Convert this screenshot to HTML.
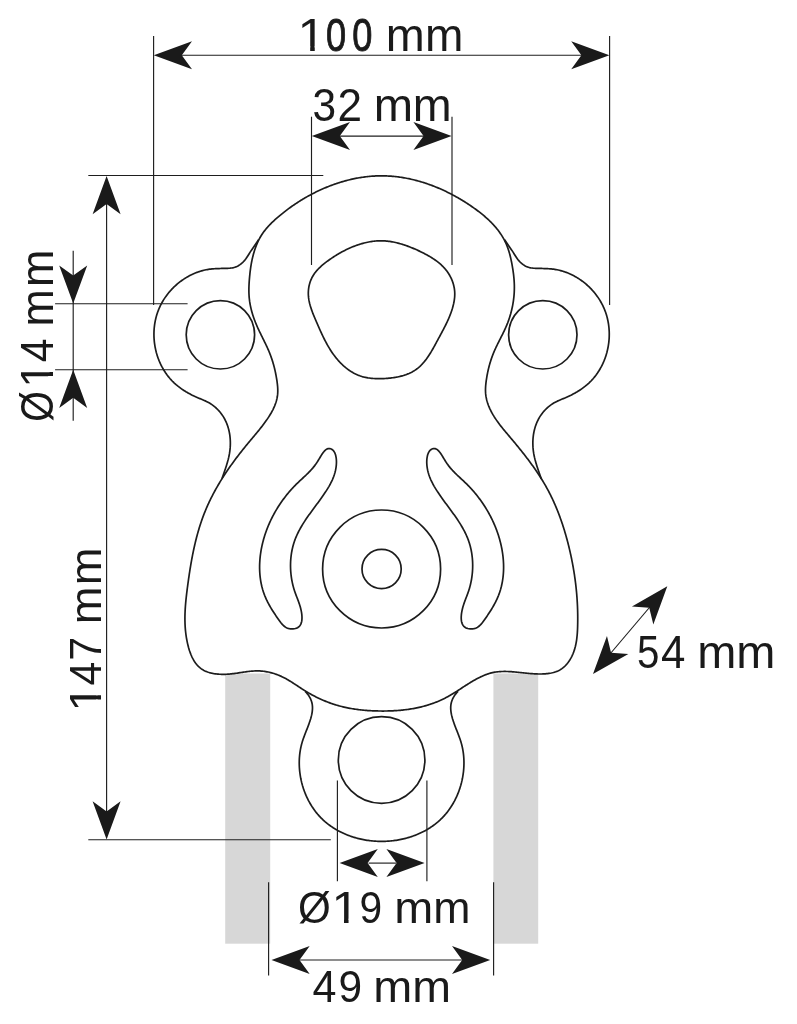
<!DOCTYPE html>
<html><head><meta charset="utf-8"><style>
html,body{margin:0;padding:0;background:#fff;width:797px;height:1024px;overflow:hidden}
svg{display:block;will-change:transform}
</style></head><body>
<svg width="797" height="1024" viewBox="0 0 797 1024">
<rect x="225.2" y="673.5" width="45" height="270.2" fill="#d7d7d7"/>
<rect x="493.4" y="673.5" width="44.8" height="270.2" fill="#d7d7d7"/>
<path d="M381.63,175.83 L380.45,175.84 L379.26,175.85 L378.07,175.88 L376.89,175.92 L375.70,175.97 L374.51,176.03 L373.33,176.10 L372.14,176.18 L370.96,176.27 L369.77,176.37 L368.59,176.49 L367.40,176.61 L366.22,176.75 L365.04,176.89 L363.86,177.05 L362.68,177.22 L361.50,177.39 L360.32,177.58 L359.14,177.78 L357.96,177.98 L356.79,178.20 L355.61,178.43 L354.44,178.66 L353.27,178.91 L352.09,179.16 L350.93,179.43 L349.76,179.71 L348.59,179.99 L347.43,180.28 L346.27,180.59 L345.11,180.90 L343.95,181.22 L342.79,181.56 L341.64,181.90 L340.48,182.25 L339.33,182.60 L338.19,182.97 L337.04,183.35 L335.90,183.73 L334.75,184.13 L333.62,184.53 L332.48,184.94 L331.35,185.36 L330.22,185.79 L329.09,186.23 L327.96,186.67 L326.84,187.13 L325.72,187.59 L324.61,188.06 L323.49,188.54 L322.38,189.02 L321.28,189.52 L320.17,190.02 L319.07,190.53 L317.98,191.05 L316.88,191.57 L315.79,192.10 L314.71,192.64 L313.62,193.19 L312.55,193.75 L311.47,194.31 L310.40,194.88 L309.33,195.46 L308.27,196.04 L307.21,196.63 L306.16,197.23 L305.11,197.84 L304.06,198.45 L303.02,199.07 L301.98,199.70 L300.95,200.33 L299.92,200.97 L298.90,201.62 L297.88,202.27 L296.86,202.93 L295.85,203.59 L294.85,204.27 L293.85,204.94 L292.86,205.63 L291.87,206.32 L290.88,207.02 L289.90,207.72 L288.93,208.43 L287.96,209.14 L287.00,209.86 L286.04,210.59 L285.09,211.32 L284.14,212.06 L283.20,212.80 L282.26,213.55 L281.34,214.30 L280.41,215.06 L279.49,215.83 L278.58,216.60 L277.68,217.37 L276.78,218.15 L275.89,218.94 L275.00,219.73 L274.13,220.53 L273.26,221.33 L272.40,222.15 L271.55,222.97 L270.71,223.80 L269.89,224.65 L269.07,225.50 L268.27,226.36 L267.49,227.24 L266.71,228.12 L265.96,229.02 L265.21,229.93 L264.49,230.86 L263.78,231.80 L263.09,232.76 L262.41,233.73 L261.76,234.72 L261.12,235.72 L260.51,236.75 L259.92,237.79 L259.34,238.84 L258.79,239.91 L258.26,241.00 L257.74,242.10 L257.25,243.21 L256.77,244.33 L256.32,245.46 L255.88,246.60 L255.46,247.75 L255.05,248.91 L254.67,250.07 L254.30,251.23 L253.94,252.40 L253.61,253.57 L253.29,254.74 L252.98,255.91 L252.69,257.08 L252.41,258.25 L252.15,259.43 L251.90,260.60 L251.67,261.78 L251.44,262.95 L251.23,264.13 L251.03,265.31 L250.85,266.49 L250.67,267.67 L250.50,268.85 L250.34,270.04 L250.19,271.22 L250.05,272.41 L249.92,273.60 L249.80,274.79 L249.68,275.98 L249.57,277.18 L249.46,278.37 L249.36,279.57 L249.27,280.77 L249.19,281.97 L249.11,283.17 L249.05,284.37 L248.99,285.57 L248.95,286.78 L248.91,287.98 L248.89,289.18 L248.89,290.38 L248.90,291.59 L248.92,292.79 L248.97,293.98 L249.03,295.18 L249.10,296.38 L249.20,297.57 L249.32,298.76 L249.46,299.95 L249.61,301.14 L249.79,302.32 L249.98,303.50 L250.19,304.68 L250.42,305.85 L250.67,307.02 L250.93,308.19 L251.21,309.36 L251.51,310.52 L251.82,311.68 L252.15,312.83 L252.49,313.98 L252.85,315.13 L253.22,316.27 L253.61,317.41 L254.00,318.55 L254.41,319.68 L254.84,320.81 L255.27,321.93 L255.72,323.04 L256.18,324.16 L256.65,325.27 L257.13,326.37 L257.61,327.47 L258.11,328.56 L258.62,329.65 L259.13,330.74 L259.64,331.82 L260.17,332.91 L260.69,333.99 L261.22,335.07 L261.75,336.14 L262.29,337.22 L262.82,338.29 L263.35,339.37 L263.88,340.44 L264.41,341.52 L264.94,342.60 L265.46,343.67 L265.98,344.75 L266.49,345.84 L266.99,346.92 L267.49,348.01 L267.97,349.10 L268.45,350.19 L268.92,351.29 L269.38,352.39 L269.82,353.50 L270.25,354.61 L270.67,355.73 L271.08,356.85 L271.47,357.98 L271.86,359.11 L272.23,360.24 L272.59,361.38 L272.94,362.53 L273.27,363.68 L273.60,364.83 L273.91,365.99 L274.21,367.15 L274.51,368.32 L274.79,369.49 L275.06,370.67 L275.32,371.85 L275.57,373.03 L275.80,374.22 L276.03,375.41 L276.25,376.61 L276.46,377.81 L276.66,379.01 L276.85,380.22 L277.03,381.43 L277.19,382.64 L277.34,383.86 L277.47,385.07 L277.59,386.29 L277.68,387.50 L277.74,388.71 L277.77,389.92 L277.78,391.12 L277.75,392.32 L277.69,393.51 L277.58,394.69 L277.44,395.86 L277.26,397.03 L277.04,398.18 L276.79,399.33 L276.50,400.47 L276.18,401.60 L275.83,402.72 L275.44,403.84 L275.03,404.94 L274.59,406.04 L274.12,407.13 L273.63,408.21 L273.12,409.29 L272.58,410.35 L272.02,411.41 L271.44,412.47 L270.84,413.51 L270.22,414.55 L269.59,415.57 L268.94,416.60 L268.28,417.61 L267.60,418.62 L266.92,419.62 L266.22,420.61 L265.52,421.59 L264.80,422.57 L264.09,423.54 L263.36,424.51 L262.63,425.46 L261.90,426.42 L261.16,427.36 L260.42,428.30 L259.67,429.24 L258.92,430.18 L258.17,431.11 L257.41,432.03 L256.65,432.96 L255.89,433.88 L255.12,434.79 L254.36,435.71 L253.59,436.63 L252.83,437.54 L252.06,438.46 L251.29,439.37 L250.52,440.29 L249.75,441.20 L248.99,442.12 L248.22,443.04 L247.46,443.96 L246.70,444.88 L245.94,445.81 L245.18,446.74 L244.43,447.67 L243.67,448.60 L242.92,449.54 L242.17,450.48 L241.43,451.42 L240.69,452.36 L239.95,453.31 L239.21,454.26 L238.47,455.21 L237.74,456.16 L237.02,457.12 L236.29,458.08 L235.57,459.04 L234.85,460.01 L234.13,460.98 L233.42,461.95 L232.71,462.92 L232.01,463.89 L231.31,464.87 L230.61,465.85 L229.92,466.84 L229.23,467.82 L228.54,468.81 L227.86,469.81 L227.19,470.80 L226.51,471.80 L225.84,472.80 L225.18,473.80 L224.52,474.81 L223.87,475.82 L223.22,476.83 L222.57,477.84 L221.93,478.86 L221.29,479.88 L220.66,480.90 L220.04,481.93 L219.42,482.95 L218.80,483.99 L218.19,485.02 L217.59,486.06 L216.99,487.10 L216.40,488.14 L215.81,489.18 L215.23,490.23 L214.65,491.28 L214.08,492.34 L213.52,493.39 L212.96,494.45 L212.41,495.52 L211.86,496.58 L211.32,497.65 L210.79,498.72 L210.26,499.80 L209.74,500.88 L209.23,501.96 L208.72,503.04 L208.22,504.13 L207.73,505.22 L207.24,506.31 L206.76,507.40 L206.29,508.50 L205.82,509.60 L205.37,510.71 L204.92,511.81 L204.47,512.92 L204.04,514.04 L203.61,515.15 L203.19,516.27 L202.77,517.40 L202.37,518.52 L201.97,519.65 L201.57,520.78 L201.19,521.91 L200.81,523.04 L200.43,524.18 L200.06,525.32 L199.70,526.46 L199.35,527.61 L199.00,528.76 L198.66,529.90 L198.32,531.06 L197.99,532.21 L197.66,533.36 L197.34,534.52 L197.03,535.68 L196.72,536.84 L196.42,538.00 L196.12,539.17 L195.83,540.33 L195.54,541.50 L195.26,542.67 L194.98,543.84 L194.71,545.02 L194.44,546.19 L194.17,547.36 L193.92,548.54 L193.66,549.72 L193.41,550.90 L193.17,552.08 L192.93,553.26 L192.69,554.44 L192.46,555.62 L192.23,556.81 L192.00,557.99 L191.78,559.18 L191.57,560.37 L191.35,561.55 L191.14,562.74 L190.94,563.93 L190.73,565.12 L190.53,566.31 L190.34,567.50 L190.14,568.69 L189.95,569.88 L189.76,571.07 L189.58,572.26 L189.40,573.45 L189.22,574.65 L189.04,575.84 L188.87,577.03 L188.70,578.22 L188.53,579.41 L188.36,580.60 L188.19,581.79 L188.03,582.99 L187.87,584.18 L187.71,585.37 L187.55,586.56 L187.39,587.74 L187.24,588.93 L187.09,590.12 L186.94,591.31 L186.79,592.50 L186.65,593.69 L186.51,594.87 L186.37,596.06 L186.24,597.25 L186.12,598.43 L185.99,599.62 L185.87,600.81 L185.76,601.99 L185.66,603.18 L185.56,604.37 L185.46,605.55 L185.37,606.74 L185.29,607.93 L185.22,609.11 L185.15,610.30 L185.10,611.49 L185.05,612.68 L185.00,613.87 L184.97,615.06 L184.95,616.25 L184.93,617.44 L184.93,618.63 L184.93,619.82 L184.95,621.01 L184.98,622.21 L185.01,623.40 L185.06,624.59 L185.12,625.79 L185.19,626.99 L185.28,628.18 L185.37,629.38 L185.48,630.58 L185.61,631.78 L185.74,632.98 L185.89,634.19 L186.06,635.39 L186.24,636.60 L186.43,637.80 L186.64,639.01 L186.86,640.22 L187.10,641.43 L187.35,642.64 L187.62,643.86 L187.91,645.07 L188.22,646.28 L188.54,647.49 L188.89,648.69 L189.25,649.88 L189.63,651.07 L190.04,652.24 L190.47,653.40 L190.92,654.54 L191.40,655.67 L191.90,656.77 L192.43,657.86 L192.98,658.92 L193.56,659.96 L194.17,660.98 L194.80,661.96 L195.47,662.91 L196.17,663.84 L196.90,664.72 L197.65,665.58 L198.45,666.39 L199.27,667.17 L200.13,667.90 L201.03,668.59 L201.96,669.23 L202.92,669.84 L203.92,670.39 L204.95,670.91 L206.01,671.38 L207.09,671.81 L208.20,672.20 L209.33,672.56 L210.49,672.88 L211.66,673.16 L212.85,673.41 L214.06,673.63 L215.27,673.81 L216.50,673.97 L217.74,674.09 L218.99,674.19 L220.24,674.26 L221.50,674.30 L222.76,674.32 L224.02,674.31 L225.28,674.28 L226.53,674.23 L227.78,674.16 L229.02,674.07 L230.25,673.97 L231.47,673.84 L232.69,673.71 L233.90,673.56 L235.11,673.41 L236.31,673.24 L237.51,673.07 L238.70,672.89 L239.89,672.71 L241.07,672.53 L242.25,672.35 L243.43,672.18 L244.61,672.00 L245.78,671.84 L246.96,671.68 L248.13,671.53 L249.30,671.39 L250.47,671.27 L251.64,671.16 L252.81,671.06 L253.98,670.99 L255.15,670.93 L256.33,670.90 L257.51,670.89 L258.69,670.91 L259.87,670.96 L261.06,671.03 L262.24,671.13 L263.43,671.26 L264.62,671.41 L265.81,671.60 L267.00,671.80 L268.18,672.04 L269.37,672.29 L270.54,672.58 L271.72,672.88 L272.89,673.21 L274.05,673.56 L275.20,673.94 L276.35,674.34 L277.48,674.76 L278.61,675.20 L279.73,675.66 L280.83,676.15 L281.92,676.65 L283.00,677.17 L284.07,677.72 L285.13,678.27 L286.18,678.85 L287.22,679.43 L288.25,680.03 L289.28,680.65 L290.30,681.27 L291.31,681.90 L292.32,682.54 L293.33,683.19 L294.33,683.84 L295.33,684.50 L296.33,685.16 L297.33,685.82 L298.32,686.48 L299.32,687.14 L300.33,687.80 L301.33,688.46 L302.34,689.11 L303.35,689.76 L304.37,690.40 L305.39,691.03 L306.42,691.66 L307.46,692.27 L308.50,692.88 L309.55,693.48 L310.60,694.07 L311.66,694.65 L312.72,695.23 L313.78,695.79 L314.86,696.35 L315.93,696.89 L317.01,697.43 L318.10,697.96 L319.19,698.48 L320.29,698.98 L321.39,699.48 L322.49,699.97 L323.60,700.45 L324.71,700.91 L325.82,701.37 L326.94,701.81 L328.06,702.25 L329.19,702.67 L330.32,703.08 L331.45,703.48 L332.59,703.87 L333.73,704.24 L334.87,704.61 L336.01,704.96 L337.16,705.30 L338.31,705.63 L339.47,705.95 L340.62,706.25 L341.78,706.55 L342.94,706.83 L344.11,707.11 L345.27,707.37 L346.44,707.62 L347.61,707.86 L348.78,708.09 L349.96,708.32 L351.14,708.53 L352.31,708.73 L353.50,708.92 L354.68,709.11 L355.86,709.28 L357.05,709.44 L358.23,709.60 L359.42,709.75 L360.61,709.88 L361.81,710.01 L363.00,710.13 L364.19,710.24 L365.39,710.35 L366.58,710.45 L367.78,710.53 L368.98,710.61 L370.18,710.69 L371.38,710.75 L372.58,710.81 L373.78,710.86 L374.98,710.90 L376.19,710.94 L377.39,710.97 L378.59,711.00 L379.80,711.01 L381.00,711.02 L382.20,711.03 L383.41,711.03 L384.61,711.02 L385.81,711.01 L387.02,710.99 L388.22,710.96 L389.42,710.92 L390.63,710.88 L391.83,710.83 L393.03,710.78 L394.23,710.71 L395.43,710.64 L396.63,710.56 L397.83,710.48 L399.02,710.38 L400.22,710.28 L401.41,710.17 L402.60,710.04 L403.80,709.92 L404.99,709.78 L406.17,709.63 L407.36,709.47 L408.55,709.31 L409.73,709.13 L410.91,708.95 L412.09,708.75 L413.26,708.55 L414.44,708.33 L415.61,708.11 L416.78,707.87 L417.95,707.63 L419.11,707.37 L420.28,707.10 L421.44,706.82 L422.59,706.53 L423.75,706.23 L424.90,705.92 L426.04,705.59 L427.19,705.26 L428.33,704.91 L429.47,704.55 L430.60,704.17 L431.73,703.79 L432.86,703.39 L433.98,702.98 L435.10,702.56 L436.22,702.12 L437.33,701.67 L438.44,701.21 L439.54,700.73 L440.64,700.24 L441.73,699.74 L442.82,699.22 L443.91,698.69 L444.99,698.14 L446.07,697.58 L447.14,697.01 L448.21,696.42 L449.27,695.82 L450.33,695.21 L451.39,694.58 L452.44,693.95 L453.49,693.31 L454.53,692.66 L455.58,692.01 L456.62,691.35 L457.66,690.68 L458.70,690.01 L459.73,689.34 L460.77,688.67 L461.80,688.00 L462.83,687.32 L463.87,686.65 L464.90,685.98 L465.93,685.32 L466.97,684.66 L468.00,684.00 L469.03,683.35 L470.07,682.71 L471.11,682.07 L472.15,681.45 L473.19,680.83 L474.23,680.23 L475.28,679.64 L476.32,679.06 L477.38,678.49 L478.43,677.94 L479.49,677.41 L480.55,676.89 L481.62,676.40 L482.69,675.92 L483.76,675.46 L484.84,675.02 L485.93,674.60 L487.02,674.21 L488.12,673.84 L489.22,673.50 L490.33,673.18 L491.44,672.89 L492.57,672.63 L493.70,672.39 L494.83,672.19 L495.97,672.01 L497.12,671.86 L498.28,671.74 L499.44,671.64 L500.61,671.56 L501.79,671.51 L502.96,671.48 L504.15,671.46 L505.34,671.47 L506.53,671.49 L507.73,671.52 L508.93,671.58 L510.13,671.64 L511.34,671.72 L512.55,671.81 L513.76,671.90 L514.98,672.01 L516.20,672.12 L517.42,672.24 L518.64,672.37 L519.86,672.49 L521.09,672.62 L522.31,672.75 L523.54,672.88 L524.77,673.01 L525.99,673.14 L527.22,673.26 L528.44,673.38 L529.67,673.49 L530.89,673.59 L532.11,673.69 L533.33,673.77 L534.55,673.85 L535.76,673.91 L536.98,673.96 L538.19,673.99 L539.39,674.00 L540.60,674.00 L541.80,673.98 L542.99,673.94 L544.18,673.88 L545.37,673.80 L546.56,673.69 L547.73,673.56 L548.91,673.40 L550.07,673.22 L551.23,673.00 L552.37,672.75 L553.51,672.47 L554.63,672.15 L555.73,671.78 L556.82,671.38 L557.89,670.93 L558.93,670.43 L559.95,669.89 L560.95,669.29 L561.92,668.63 L562.86,667.93 L563.77,667.17 L564.66,666.36 L565.51,665.51 L566.33,664.62 L567.12,663.70 L567.88,662.74 L568.61,661.76 L569.30,660.75 L569.96,659.72 L570.58,658.67 L571.17,657.61 L571.73,656.54 L572.25,655.46 L572.74,654.36 L573.20,653.26 L573.63,652.14 L574.03,651.02 L574.41,649.89 L574.75,648.75 L575.07,647.59 L575.37,646.44 L575.64,645.27 L575.89,644.10 L576.12,642.92 L576.33,641.74 L576.52,640.55 L576.69,639.35 L576.84,638.15 L576.97,636.95 L577.10,635.74 L577.20,634.53 L577.30,633.32 L577.38,632.11 L577.45,630.89 L577.51,629.67 L577.56,628.45 L577.60,627.24 L577.64,626.02 L577.66,624.80 L577.69,623.58 L577.71,622.37 L577.72,621.15 L577.73,619.94 L577.74,618.73 L577.73,617.52 L577.73,616.31 L577.72,615.10 L577.70,613.89 L577.68,612.68 L577.65,611.47 L577.62,610.27 L577.58,609.06 L577.54,607.86 L577.49,606.66 L577.44,605.45 L577.38,604.25 L577.32,603.05 L577.25,601.85 L577.18,600.65 L577.10,599.46 L577.02,598.26 L576.94,597.06 L576.84,595.87 L576.75,594.67 L576.65,593.48 L576.54,592.29 L576.43,591.10 L576.31,589.90 L576.19,588.71 L576.07,587.52 L575.94,586.34 L575.80,585.15 L575.66,583.96 L575.52,582.77 L575.37,581.59 L575.21,580.40 L575.06,579.22 L574.89,578.04 L574.72,576.85 L574.55,575.67 L574.38,574.49 L574.19,573.31 L574.01,572.13 L573.82,570.95 L573.62,569.77 L573.42,568.59 L573.22,567.42 L573.01,566.24 L572.79,565.06 L572.57,563.89 L572.35,562.71 L572.12,561.54 L571.89,560.36 L571.66,559.19 L571.42,558.02 L571.17,556.85 L570.92,555.67 L570.67,554.50 L570.41,553.33 L570.15,552.16 L569.88,550.99 L569.61,549.83 L569.33,548.66 L569.05,547.49 L568.77,546.32 L568.48,545.16 L568.19,543.99 L567.89,542.82 L567.59,541.66 L567.28,540.50 L566.97,539.34 L566.65,538.17 L566.33,537.01 L566.01,535.86 L565.68,534.70 L565.34,533.54 L565.00,532.39 L564.66,531.23 L564.31,530.08 L563.95,528.93 L563.59,527.78 L563.23,526.63 L562.86,525.49 L562.48,524.35 L562.10,523.20 L561.71,522.06 L561.32,520.93 L560.92,519.79 L560.52,518.66 L560.11,517.52 L559.70,516.40 L559.28,515.27 L558.85,514.14 L558.42,513.02 L557.99,511.90 L557.54,510.79 L557.10,509.67 L556.64,508.56 L556.18,507.45 L555.72,506.35 L555.25,505.24 L554.77,504.14 L554.28,503.05 L553.79,501.95 L553.30,500.86 L552.80,499.77 L552.29,498.69 L551.77,497.61 L551.25,496.53 L550.72,495.46 L550.19,494.39 L549.65,493.32 L549.10,492.26 L548.55,491.20 L547.99,490.14 L547.42,489.09 L546.84,488.04 L546.26,487.00 L545.68,485.96 L545.08,484.92 L544.48,483.89 L543.88,482.86 L543.27,481.83 L542.65,480.81 L542.02,479.79 L541.39,478.78 L540.76,477.76 L540.12,476.76 L539.47,475.75 L538.82,474.75 L538.16,473.75 L537.50,472.75 L536.83,471.76 L536.16,470.77 L535.48,469.78 L534.80,468.80 L534.11,467.82 L533.42,466.84 L532.72,465.86 L532.02,464.89 L531.32,463.92 L530.61,462.95 L529.90,461.98 L529.18,461.02 L528.46,460.06 L527.74,459.10 L527.01,458.14 L526.28,457.19 L525.55,456.23 L524.81,455.28 L524.07,454.33 L523.33,453.39 L522.58,452.44 L521.83,451.50 L521.08,450.56 L520.32,449.61 L519.57,448.68 L518.81,447.74 L518.05,446.80 L517.28,445.87 L516.52,444.94 L515.75,444.00 L514.98,443.07 L514.21,442.14 L513.43,441.22 L512.66,440.29 L511.88,439.36 L511.10,438.44 L510.32,437.51 L509.54,436.59 L508.76,435.67 L507.98,434.74 L507.20,433.82 L506.42,432.89 L505.65,431.97 L504.87,431.04 L504.11,430.11 L503.34,429.18 L502.58,428.25 L501.83,427.31 L501.08,426.37 L500.34,425.42 L499.61,424.47 L498.89,423.52 L498.18,422.56 L497.48,421.59 L496.79,420.62 L496.11,419.64 L495.45,418.65 L494.80,417.66 L494.16,416.66 L493.54,415.64 L492.93,414.63 L492.34,413.60 L491.77,412.56 L491.21,411.51 L490.68,410.45 L490.16,409.38 L489.66,408.30 L489.19,407.21 L488.73,406.11 L488.30,405.00 L487.90,403.87 L487.52,402.74 L487.17,401.60 L486.85,400.45 L486.56,399.29 L486.31,398.13 L486.08,396.96 L485.89,395.78 L485.74,394.60 L485.63,393.42 L485.55,392.23 L485.51,391.03 L485.50,389.84 L485.52,388.64 L485.57,387.44 L485.64,386.24 L485.74,385.04 L485.86,383.83 L485.99,382.63 L486.15,381.43 L486.31,380.23 L486.49,379.03 L486.68,377.83 L486.88,376.64 L487.08,375.45 L487.31,374.26 L487.54,373.07 L487.78,371.89 L488.04,370.71 L488.30,369.53 L488.58,368.36 L488.87,367.19 L489.17,366.02 L489.49,364.86 L489.82,363.70 L490.15,362.55 L490.51,361.40 L490.87,360.25 L491.25,359.11 L491.64,357.98 L492.04,356.85 L492.45,355.72 L492.88,354.60 L493.32,353.49 L493.78,352.38 L494.25,351.27 L494.73,350.18 L495.22,349.08 L495.72,347.99 L496.23,346.91 L496.75,345.83 L497.27,344.75 L497.80,343.67 L498.34,342.60 L498.87,341.53 L499.42,340.45 L499.96,339.38 L500.50,338.31 L501.04,337.24 L501.59,336.17 L502.12,335.09 L502.66,334.02 L503.19,332.94 L503.71,331.86 L504.23,330.78 L504.74,329.69 L505.24,328.60 L505.73,327.51 L506.21,326.41 L506.68,325.30 L507.13,324.19 L507.58,323.08 L508.00,321.96 L508.42,320.83 L508.82,319.70 L509.21,318.56 L509.58,317.42 L509.94,316.27 L510.29,315.12 L510.63,313.97 L510.94,312.81 L511.25,311.65 L511.54,310.49 L511.82,309.32 L512.08,308.15 L512.33,306.97 L512.57,305.80 L512.79,304.62 L513.00,303.44 L513.19,302.25 L513.37,301.07 L513.53,299.88 L513.68,298.70 L513.82,297.51 L513.94,296.32 L514.04,295.13 L514.13,293.94 L514.21,292.75 L514.27,291.55 L514.31,290.36 L514.34,289.17 L514.36,287.98 L514.36,286.79 L514.35,285.60 L514.32,284.42 L514.27,283.23 L514.21,282.04 L514.14,280.85 L514.06,279.67 L513.96,278.48 L513.85,277.29 L513.73,276.10 L513.60,274.92 L513.45,273.73 L513.30,272.54 L513.13,271.34 L512.96,270.15 L512.77,268.96 L512.58,267.76 L512.38,266.56 L512.16,265.36 L511.95,264.16 L511.72,262.96 L511.48,261.76 L511.23,260.55 L510.98,259.35 L510.71,258.15 L510.43,256.95 L510.13,255.76 L509.83,254.58 L509.50,253.39 L509.17,252.22 L508.81,251.05 L508.45,249.89 L508.06,248.74 L507.66,247.60 L507.24,246.47 L506.80,245.36 L506.34,244.25 L505.86,243.16 L505.36,242.08 L504.84,241.02 L504.30,239.96 L503.74,238.92 L503.16,237.90 L502.57,236.88 L501.96,235.88 L501.33,234.89 L500.69,233.91 L500.02,232.94 L499.35,231.98 L498.65,231.04 L497.94,230.10 L497.22,229.18 L496.48,228.26 L495.73,227.36 L494.96,226.47 L494.18,225.59 L493.39,224.71 L492.58,223.85 L491.77,223.00 L490.94,222.15 L490.09,221.32 L489.24,220.49 L488.38,219.67 L487.50,218.86 L486.62,218.06 L485.72,217.27 L484.82,216.49 L483.91,215.71 L482.99,214.94 L482.06,214.18 L481.12,213.43 L480.17,212.68 L479.22,211.94 L478.26,211.21 L477.29,210.48 L476.32,209.76 L475.35,209.05 L474.36,208.34 L473.37,207.64 L472.38,206.94 L471.38,206.25 L470.38,205.57 L469.38,204.89 L468.37,204.22 L467.35,203.55 L466.33,202.89 L465.31,202.24 L464.28,201.59 L463.25,200.95 L462.21,200.31 L461.17,199.69 L460.13,199.06 L459.08,198.45 L458.03,197.84 L456.98,197.24 L455.92,196.64 L454.85,196.06 L453.79,195.47 L452.72,194.90 L451.64,194.33 L450.57,193.77 L449.49,193.22 L448.40,192.67 L447.32,192.14 L446.23,191.61 L445.13,191.08 L444.04,190.57 L442.94,190.06 L441.83,189.56 L440.73,189.07 L439.62,188.58 L438.51,188.10 L437.39,187.64 L436.27,187.18 L435.15,186.72 L434.03,186.28 L432.91,185.84 L431.78,185.41 L430.65,184.99 L429.51,184.58 L428.38,184.18 L427.24,183.79 L426.10,183.40 L424.96,183.02 L423.82,182.66 L422.67,182.30 L421.52,181.95 L420.37,181.61 L419.22,181.27 L418.06,180.95 L416.91,180.64 L415.75,180.33 L414.59,180.04 L413.43,179.75 L412.27,179.47 L411.10,179.21 L409.94,178.95 L408.77,178.70 L407.60,178.47 L406.43,178.24 L405.26,178.02 L404.08,177.81 L402.91,177.61 L401.73,177.42 L400.56,177.25 L399.38,177.08 L398.20,176.92 L397.02,176.77 L395.84,176.64 L394.66,176.51 L393.48,176.39 L392.30,176.29 L391.11,176.19 L389.93,176.11 L388.75,176.04 L387.56,175.98 L386.38,175.92 L385.19,175.88 L384.01,175.86 L382.82,175.84 L381.63,175.83Z" fill="#fff" stroke="none"/>
<path d="M305.16,691.40 L306.01,692.26 L306.83,693.16 L307.60,694.10 L308.32,695.07 L308.99,696.07 L309.61,697.09 L310.18,698.14 L310.69,699.22 L311.14,700.31 L311.53,701.43 L311.85,702.55 L312.11,703.69 L312.30,704.84 L312.42,706.00 L312.48,707.16 L312.49,708.34 L312.44,709.51 L312.34,710.69 L312.20,711.87 L312.01,713.05 L311.79,714.23 L311.54,715.40 L311.25,716.58 L310.94,717.74 L310.61,718.90 L310.25,720.06 L309.88,721.20 L309.50,722.34 L309.10,723.47 L308.70,724.60 L308.28,725.72 L307.85,726.84 L307.42,727.96 L306.99,729.07 L306.55,730.18 L306.11,731.29 L305.67,732.40 L305.24,733.51 L304.81,734.62 L304.39,735.73 L303.98,736.85 L303.57,737.96 L303.18,739.09 L302.80,740.21 L302.44,741.34 L302.10,742.48 L301.77,743.62 L301.47,744.77 L301.18,745.93 L300.92,747.09 L300.67,748.26 L300.45,749.43 L300.24,750.61 L300.05,751.79 L299.89,752.98 L299.74,754.17 L299.61,755.36 L299.50,756.56 L299.41,757.76 L299.34,758.96 L299.29,760.17 L299.26,761.37 L299.25,762.58 L299.25,763.79 L299.28,765.00 L299.32,766.21 L299.38,767.43 L299.46,768.64 L299.56,769.85 L299.67,771.06 L299.81,772.27 L299.96,773.47 L300.13,774.68 L300.32,775.88 L300.52,777.09 L300.74,778.28 L300.99,779.48 L301.24,780.67 L301.52,781.86 L301.81,783.04 L302.13,784.22 L302.45,785.40 L302.80,786.56 L303.16,787.73 L303.54,788.89 L303.94,790.04 L304.35,791.18 L304.78,792.32 L305.22,793.45 L305.69,794.57 L306.16,795.69 L306.66,796.80 L307.17,797.89 L307.70,798.98 L308.24,800.06 L308.80,801.14 L309.38,802.20 L309.97,803.25 L310.58,804.29 L311.20,805.32 L311.84,806.33 L312.49,807.34 L313.16,808.33 L313.84,809.31 L314.54,810.28 L315.26,811.24 L315.99,812.18 L316.73,813.11 L317.49,814.03 L318.27,814.93 L319.06,815.81 L319.86,816.68 L320.68,817.54 L321.51,818.38 L322.36,819.21 L323.22,820.02 L324.09,820.81 L324.97,821.60 L325.87,822.36 L326.78,823.11 L327.71,823.85 L328.64,824.57 L329.59,825.28 L330.55,825.97 L331.52,826.64 L332.50,827.30 L333.49,827.95 L334.50,828.58 L335.51,829.20 L336.53,829.80 L337.57,830.38 L338.61,830.95 L339.66,831.51 L340.72,832.05 L341.79,832.57 L342.87,833.08 L343.96,833.58 L345.05,834.06 L346.15,834.52 L347.26,834.97 L348.38,835.41 L349.50,835.82 L350.63,836.23 L351.77,836.62 L352.92,836.99 L354.07,837.35 L355.22,837.69 L356.38,838.02 L357.55,838.33 L358.72,838.63 L359.90,838.91 L361.08,839.18 L362.26,839.43 L363.45,839.67 L364.64,839.89 L365.84,840.10 L367.04,840.29 L368.24,840.46 L369.45,840.62 L370.66,840.77 L371.87,840.90 L373.08,841.01 L374.29,841.11 L375.51,841.20 L376.73,841.27 L377.94,841.32 L379.16,841.36 L380.38,841.38 L381.60,841.39 L382.82,841.38 L384.04,841.36 L385.26,841.32 L386.47,841.27 L387.69,841.20 L388.91,841.11 L390.12,841.01 L391.33,840.90 L392.54,840.77 L393.75,840.62 L394.96,840.46 L396.16,840.29 L397.36,840.10 L398.56,839.89 L399.75,839.67 L400.94,839.43 L402.12,839.18 L403.30,838.91 L404.48,838.63 L405.65,838.33 L406.82,838.02 L407.98,837.69 L409.13,837.35 L410.28,836.99 L411.43,836.62 L412.57,836.23 L413.70,835.82 L414.82,835.41 L415.94,834.97 L417.05,834.52 L418.15,834.06 L419.24,833.58 L420.33,833.08 L421.41,832.57 L422.48,832.05 L423.54,831.51 L424.59,830.95 L425.63,830.38 L426.67,829.80 L427.69,829.20 L428.70,828.58 L429.71,827.95 L430.70,827.30 L431.68,826.64 L432.65,825.97 L433.61,825.28 L434.56,824.57 L435.49,823.85 L436.42,823.11 L437.33,822.36 L438.23,821.60 L439.11,820.81 L439.98,820.02 L440.84,819.21 L441.69,818.38 L442.52,817.54 L443.34,816.68 L444.14,815.81 L444.93,814.93 L445.71,814.03 L446.47,813.11 L447.21,812.18 L447.94,811.24 L448.66,810.28 L449.36,809.31 L450.04,808.33 L450.71,807.34 L451.36,806.33 L452.00,805.32 L452.62,804.29 L453.23,803.25 L453.82,802.20 L454.40,801.14 L454.96,800.06 L455.50,798.98 L456.03,797.89 L456.54,796.80 L457.04,795.69 L457.51,794.57 L457.98,793.45 L458.42,792.32 L458.85,791.18 L459.26,790.04 L459.66,788.89 L460.04,787.73 L460.40,786.56 L460.75,785.40 L461.07,784.22 L461.39,783.04 L461.68,781.86 L461.96,780.67 L462.21,779.48 L462.46,778.28 L462.68,777.09 L462.88,775.88 L463.07,774.68 L463.24,773.47 L463.39,772.27 L463.53,771.06 L463.64,769.85 L463.74,768.64 L463.82,767.43 L463.88,766.21 L463.92,765.00 L463.95,763.79 L463.95,762.58 L463.94,761.37 L463.91,760.17 L463.86,758.96 L463.79,757.76 L463.70,756.56 L463.59,755.36 L463.46,754.17 L463.31,752.98 L463.15,751.79 L462.96,750.61 L462.75,749.43 L462.53,748.26 L462.28,747.09 L462.02,745.93 L461.73,744.77 L461.43,743.62 L461.10,742.48 L460.76,741.34 L460.40,740.21 L460.02,739.09 L459.63,737.96 L459.22,736.85 L458.81,735.73 L458.39,734.62 L457.96,733.51 L457.53,732.40 L457.09,731.29 L456.65,730.18 L456.21,729.07 L455.78,727.96 L455.35,726.84 L454.92,725.72 L454.50,724.60 L454.10,723.47 L453.70,722.34 L453.32,721.20 L452.95,720.06 L452.59,718.90 L452.26,717.74 L451.95,716.58 L451.66,715.40 L451.41,714.23 L451.19,713.05 L451.00,711.87 L450.86,710.69 L450.76,709.51 L450.71,708.34 L450.72,707.16 L450.78,706.00 L450.90,704.84 L451.09,703.69 L451.35,702.55 L451.67,701.43 L452.06,700.31 L452.51,699.22 L453.02,698.14 L453.59,697.09 L454.21,696.07 L454.88,695.07 L455.60,694.10 L456.37,693.16 L457.19,692.26 L458.04,691.40" fill="#fff" stroke="none"/>
<path d="M381.63,175.83 L380.45,175.84 L379.26,175.85 L378.07,175.88 L376.89,175.92 L375.70,175.97 L374.51,176.03 L373.33,176.10 L372.14,176.18 L370.96,176.27 L369.77,176.37 L368.59,176.49 L367.40,176.61 L366.22,176.75 L365.04,176.89 L363.86,177.05 L362.68,177.22 L361.50,177.39 L360.32,177.58 L359.14,177.78 L357.96,177.98 L356.79,178.20 L355.61,178.43 L354.44,178.66 L353.27,178.91 L352.09,179.16 L350.93,179.43 L349.76,179.71 L348.59,179.99 L347.43,180.28 L346.27,180.59 L345.11,180.90 L343.95,181.22 L342.79,181.56 L341.64,181.90 L340.48,182.25 L339.33,182.60 L338.19,182.97 L337.04,183.35 L335.90,183.73 L334.75,184.13 L333.62,184.53 L332.48,184.94 L331.35,185.36 L330.22,185.79 L329.09,186.23 L327.96,186.67 L326.84,187.13 L325.72,187.59 L324.61,188.06 L323.49,188.54 L322.38,189.02 L321.28,189.52 L320.17,190.02 L319.07,190.53 L317.98,191.05 L316.88,191.57 L315.79,192.10 L314.71,192.64 L313.62,193.19 L312.55,193.75 L311.47,194.31 L310.40,194.88 L309.33,195.46 L308.27,196.04 L307.21,196.63 L306.16,197.23 L305.11,197.84 L304.06,198.45 L303.02,199.07 L301.98,199.70 L300.95,200.33 L299.92,200.97 L298.90,201.62 L297.88,202.27 L296.86,202.93 L295.85,203.59 L294.85,204.27 L293.85,204.94 L292.86,205.63 L291.87,206.32 L290.88,207.02 L289.90,207.72 L288.93,208.43 L287.96,209.14 L287.00,209.86 L286.04,210.59 L285.09,211.32 L284.14,212.06 L283.20,212.80 L282.26,213.55 L281.34,214.30 L280.41,215.06 L279.49,215.83 L278.58,216.60 L277.68,217.37 L276.78,218.15 L275.89,218.94 L275.00,219.73 L274.13,220.53 L273.26,221.33 L272.40,222.15 L271.55,222.97 L270.71,223.80 L269.89,224.65 L269.07,225.50 L268.27,226.36 L267.49,227.24 L266.71,228.12 L265.96,229.02 L265.21,229.93 L264.49,230.86 L263.78,231.80 L263.09,232.76 L262.41,233.73 L261.76,234.72 L261.12,235.72 L260.51,236.75 L259.92,237.79 L259.34,238.84 L258.79,239.91 L258.26,241.00 L257.74,242.10 L257.25,243.21 L256.77,244.33 L256.32,245.46 L255.88,246.60 L255.46,247.75 L255.05,248.91 L254.67,250.07 L254.30,251.23 L253.94,252.40 L253.61,253.57 L253.29,254.74 L252.98,255.91 L252.69,257.08 L252.41,258.25 L252.15,259.43 L251.90,260.60 L251.67,261.78 L251.44,262.95 L251.23,264.13 L251.03,265.31 L250.85,266.49 L250.67,267.67 L250.50,268.85 L250.34,270.04 L250.19,271.22 L250.05,272.41 L249.92,273.60 L249.80,274.79 L249.68,275.98 L249.57,277.18 L249.46,278.37 L249.36,279.57 L249.27,280.77 L249.19,281.97 L249.11,283.17 L249.05,284.37 L248.99,285.57 L248.95,286.78 L248.91,287.98 L248.89,289.18 L248.89,290.38 L248.90,291.59 L248.92,292.79 L248.97,293.98 L249.03,295.18 L249.10,296.38 L249.20,297.57 L249.32,298.76 L249.46,299.95 L249.61,301.14 L249.79,302.32 L249.98,303.50 L250.19,304.68 L250.42,305.85 L250.67,307.02 L250.93,308.19 L251.21,309.36 L251.51,310.52 L251.82,311.68 L252.15,312.83 L252.49,313.98 L252.85,315.13 L253.22,316.27 L253.61,317.41 L254.00,318.55 L254.41,319.68 L254.84,320.81 L255.27,321.93 L255.72,323.04 L256.18,324.16 L256.65,325.27 L257.13,326.37 L257.61,327.47 L258.11,328.56 L258.62,329.65 L259.13,330.74 L259.64,331.82 L260.17,332.91 L260.69,333.99 L261.22,335.07 L261.75,336.14 L262.29,337.22 L262.82,338.29 L263.35,339.37 L263.88,340.44 L264.41,341.52 L264.94,342.60 L265.46,343.67 L265.98,344.75 L266.49,345.84 L266.99,346.92 L267.49,348.01 L267.97,349.10 L268.45,350.19 L268.92,351.29 L269.38,352.39 L269.82,353.50 L270.25,354.61 L270.67,355.73 L271.08,356.85 L271.47,357.98 L271.86,359.11 L272.23,360.24 L272.59,361.38 L272.94,362.53 L273.27,363.68 L273.60,364.83 L273.91,365.99 L274.21,367.15 L274.51,368.32 L274.79,369.49 L275.06,370.67 L275.32,371.85 L275.57,373.03 L275.80,374.22 L276.03,375.41 L276.25,376.61 L276.46,377.81 L276.66,379.01 L276.85,380.22 L277.03,381.43 L277.19,382.64 L277.34,383.86 L277.47,385.07 L277.59,386.29 L277.68,387.50 L277.74,388.71 L277.77,389.92 L277.78,391.12 L277.75,392.32 L277.69,393.51 L277.58,394.69 L277.44,395.86 L277.26,397.03 L277.04,398.18 L276.79,399.33 L276.50,400.47 L276.18,401.60 L275.83,402.72 L275.44,403.84 L275.03,404.94 L274.59,406.04 L274.12,407.13 L273.63,408.21 L273.12,409.29 L272.58,410.35 L272.02,411.41 L271.44,412.47 L270.84,413.51 L270.22,414.55 L269.59,415.57 L268.94,416.60 L268.28,417.61 L267.60,418.62 L266.92,419.62 L266.22,420.61 L265.52,421.59 L264.80,422.57 L264.09,423.54 L263.36,424.51 L262.63,425.46 L261.90,426.42 L261.16,427.36 L260.42,428.30 L259.67,429.24 L258.92,430.18 L258.17,431.11 L257.41,432.03 L256.65,432.96 L255.89,433.88 L255.12,434.79 L254.36,435.71 L253.59,436.63 L252.83,437.54 L252.06,438.46 L251.29,439.37 L250.52,440.29 L249.75,441.20 L248.99,442.12 L248.22,443.04 L247.46,443.96 L246.70,444.88 L245.94,445.81 L245.18,446.74 L244.43,447.67 L243.67,448.60 L242.92,449.54 L242.17,450.48 L241.43,451.42 L240.69,452.36 L239.95,453.31 L239.21,454.26 L238.47,455.21 L237.74,456.16 L237.02,457.12 L236.29,458.08 L235.57,459.04 L234.85,460.01 L234.13,460.98 L233.42,461.95 L232.71,462.92 L232.01,463.89 L231.31,464.87 L230.61,465.85 L229.92,466.84 L229.23,467.82 L228.54,468.81 L227.86,469.81 L227.19,470.80 L226.51,471.80 L225.84,472.80 L225.18,473.80 L224.52,474.81 L223.87,475.82 L223.22,476.83 L222.57,477.84 L221.93,478.86 L221.29,479.88 L220.66,480.90 L220.04,481.93 L219.42,482.95 L218.80,483.99 L218.19,485.02 L217.59,486.06 L216.99,487.10 L216.40,488.14 L215.81,489.18 L215.23,490.23 L214.65,491.28 L214.08,492.34 L213.52,493.39 L212.96,494.45 L212.41,495.52 L211.86,496.58 L211.32,497.65 L210.79,498.72 L210.26,499.80 L209.74,500.88 L209.23,501.96 L208.72,503.04 L208.22,504.13 L207.73,505.22 L207.24,506.31 L206.76,507.40 L206.29,508.50 L205.82,509.60 L205.37,510.71 L204.92,511.81 L204.47,512.92 L204.04,514.04 L203.61,515.15 L203.19,516.27 L202.77,517.40 L202.37,518.52 L201.97,519.65 L201.57,520.78 L201.19,521.91 L200.81,523.04 L200.43,524.18 L200.06,525.32 L199.70,526.46 L199.35,527.61 L199.00,528.76 L198.66,529.90 L198.32,531.06 L197.99,532.21 L197.66,533.36 L197.34,534.52 L197.03,535.68 L196.72,536.84 L196.42,538.00 L196.12,539.17 L195.83,540.33 L195.54,541.50 L195.26,542.67 L194.98,543.84 L194.71,545.02 L194.44,546.19 L194.17,547.36 L193.92,548.54 L193.66,549.72 L193.41,550.90 L193.17,552.08 L192.93,553.26 L192.69,554.44 L192.46,555.62 L192.23,556.81 L192.00,557.99 L191.78,559.18 L191.57,560.37 L191.35,561.55 L191.14,562.74 L190.94,563.93 L190.73,565.12 L190.53,566.31 L190.34,567.50 L190.14,568.69 L189.95,569.88 L189.76,571.07 L189.58,572.26 L189.40,573.45 L189.22,574.65 L189.04,575.84 L188.87,577.03 L188.70,578.22 L188.53,579.41 L188.36,580.60 L188.19,581.79 L188.03,582.99 L187.87,584.18 L187.71,585.37 L187.55,586.56 L187.39,587.74 L187.24,588.93 L187.09,590.12 L186.94,591.31 L186.79,592.50 L186.65,593.69 L186.51,594.87 L186.37,596.06 L186.24,597.25 L186.12,598.43 L185.99,599.62 L185.87,600.81 L185.76,601.99 L185.66,603.18 L185.56,604.37 L185.46,605.55 L185.37,606.74 L185.29,607.93 L185.22,609.11 L185.15,610.30 L185.10,611.49 L185.05,612.68 L185.00,613.87 L184.97,615.06 L184.95,616.25 L184.93,617.44 L184.93,618.63 L184.93,619.82 L184.95,621.01 L184.98,622.21 L185.01,623.40 L185.06,624.59 L185.12,625.79 L185.19,626.99 L185.28,628.18 L185.37,629.38 L185.48,630.58 L185.61,631.78 L185.74,632.98 L185.89,634.19 L186.06,635.39 L186.24,636.60 L186.43,637.80 L186.64,639.01 L186.86,640.22 L187.10,641.43 L187.35,642.64 L187.62,643.86 L187.91,645.07 L188.22,646.28 L188.54,647.49 L188.89,648.69 L189.25,649.88 L189.63,651.07 L190.04,652.24 L190.47,653.40 L190.92,654.54 L191.40,655.67 L191.90,656.77 L192.43,657.86 L192.98,658.92 L193.56,659.96 L194.17,660.98 L194.80,661.96 L195.47,662.91 L196.17,663.84 L196.90,664.72 L197.65,665.58 L198.45,666.39 L199.27,667.17 L200.13,667.90 L201.03,668.59 L201.96,669.23 L202.92,669.84 L203.92,670.39 L204.95,670.91 L206.01,671.38 L207.09,671.81 L208.20,672.20 L209.33,672.56 L210.49,672.88 L211.66,673.16 L212.85,673.41 L214.06,673.63 L215.27,673.81 L216.50,673.97 L217.74,674.09 L218.99,674.19 L220.24,674.26 L221.50,674.30 L222.76,674.32 L224.02,674.31 L225.28,674.28 L226.53,674.23 L227.78,674.16 L229.02,674.07 L230.25,673.97 L231.47,673.84 L232.69,673.71 L233.90,673.56 L235.11,673.41 L236.31,673.24 L237.51,673.07 L238.70,672.89 L239.89,672.71 L241.07,672.53 L242.25,672.35 L243.43,672.18 L244.61,672.00 L245.78,671.84 L246.96,671.68 L248.13,671.53 L249.30,671.39 L250.47,671.27 L251.64,671.16 L252.81,671.06 L253.98,670.99 L255.15,670.93 L256.33,670.90 L257.51,670.89 L258.69,670.91 L259.87,670.96 L261.06,671.03 L262.24,671.13 L263.43,671.26 L264.62,671.41 L265.81,671.60 L267.00,671.80 L268.18,672.04 L269.37,672.29 L270.54,672.58 L271.72,672.88 L272.89,673.21 L274.05,673.56 L275.20,673.94 L276.35,674.34 L277.48,674.76 L278.61,675.20 L279.73,675.66 L280.83,676.15 L281.92,676.65 L283.00,677.17 L284.07,677.72 L285.13,678.27 L286.18,678.85 L287.22,679.43 L288.25,680.03 L289.28,680.65 L290.30,681.27 L291.31,681.90 L292.32,682.54 L293.33,683.19 L294.33,683.84 L295.33,684.50 L296.33,685.16 L297.33,685.82 L298.32,686.48 L299.32,687.14 L300.33,687.80 L301.33,688.46 L302.34,689.11 L303.35,689.76 L304.37,690.40 L305.39,691.03 L306.42,691.66 L307.46,692.27 L308.50,692.88 L309.55,693.48 L310.60,694.07 L311.66,694.65 L312.72,695.23 L313.78,695.79 L314.86,696.35 L315.93,696.89 L317.01,697.43 L318.10,697.96 L319.19,698.48 L320.29,698.98 L321.39,699.48 L322.49,699.97 L323.60,700.45 L324.71,700.91 L325.82,701.37 L326.94,701.81 L328.06,702.25 L329.19,702.67 L330.32,703.08 L331.45,703.48 L332.59,703.87 L333.73,704.24 L334.87,704.61 L336.01,704.96 L337.16,705.30 L338.31,705.63 L339.47,705.95 L340.62,706.25 L341.78,706.55 L342.94,706.83 L344.11,707.11 L345.27,707.37 L346.44,707.62 L347.61,707.86 L348.78,708.09 L349.96,708.32 L351.14,708.53 L352.31,708.73 L353.50,708.92 L354.68,709.11 L355.86,709.28 L357.05,709.44 L358.23,709.60 L359.42,709.75 L360.61,709.88 L361.81,710.01 L363.00,710.13 L364.19,710.24 L365.39,710.35 L366.58,710.45 L367.78,710.53 L368.98,710.61 L370.18,710.69 L371.38,710.75 L372.58,710.81 L373.78,710.86 L374.98,710.90 L376.19,710.94 L377.39,710.97 L378.59,711.00 L379.80,711.01 L381.00,711.02 L382.20,711.03 L383.41,711.03 L384.61,711.02 L385.81,711.01 L387.02,710.99 L388.22,710.96 L389.42,710.92 L390.63,710.88 L391.83,710.83 L393.03,710.78 L394.23,710.71 L395.43,710.64 L396.63,710.56 L397.83,710.48 L399.02,710.38 L400.22,710.28 L401.41,710.17 L402.60,710.04 L403.80,709.92 L404.99,709.78 L406.17,709.63 L407.36,709.47 L408.55,709.31 L409.73,709.13 L410.91,708.95 L412.09,708.75 L413.26,708.55 L414.44,708.33 L415.61,708.11 L416.78,707.87 L417.95,707.63 L419.11,707.37 L420.28,707.10 L421.44,706.82 L422.59,706.53 L423.75,706.23 L424.90,705.92 L426.04,705.59 L427.19,705.26 L428.33,704.91 L429.47,704.55 L430.60,704.17 L431.73,703.79 L432.86,703.39 L433.98,702.98 L435.10,702.56 L436.22,702.12 L437.33,701.67 L438.44,701.21 L439.54,700.73 L440.64,700.24 L441.73,699.74 L442.82,699.22 L443.91,698.69 L444.99,698.14 L446.07,697.58 L447.14,697.01 L448.21,696.42 L449.27,695.82 L450.33,695.21 L451.39,694.58 L452.44,693.95 L453.49,693.31 L454.53,692.66 L455.58,692.01 L456.62,691.35 L457.66,690.68 L458.70,690.01 L459.73,689.34 L460.77,688.67 L461.80,688.00 L462.83,687.32 L463.87,686.65 L464.90,685.98 L465.93,685.32 L466.97,684.66 L468.00,684.00 L469.03,683.35 L470.07,682.71 L471.11,682.07 L472.15,681.45 L473.19,680.83 L474.23,680.23 L475.28,679.64 L476.32,679.06 L477.38,678.49 L478.43,677.94 L479.49,677.41 L480.55,676.89 L481.62,676.40 L482.69,675.92 L483.76,675.46 L484.84,675.02 L485.93,674.60 L487.02,674.21 L488.12,673.84 L489.22,673.50 L490.33,673.18 L491.44,672.89 L492.57,672.63 L493.70,672.39 L494.83,672.19 L495.97,672.01 L497.12,671.86 L498.28,671.74 L499.44,671.64 L500.61,671.56 L501.79,671.51 L502.96,671.48 L504.15,671.46 L505.34,671.47 L506.53,671.49 L507.73,671.52 L508.93,671.58 L510.13,671.64 L511.34,671.72 L512.55,671.81 L513.76,671.90 L514.98,672.01 L516.20,672.12 L517.42,672.24 L518.64,672.37 L519.86,672.49 L521.09,672.62 L522.31,672.75 L523.54,672.88 L524.77,673.01 L525.99,673.14 L527.22,673.26 L528.44,673.38 L529.67,673.49 L530.89,673.59 L532.11,673.69 L533.33,673.77 L534.55,673.85 L535.76,673.91 L536.98,673.96 L538.19,673.99 L539.39,674.00 L540.60,674.00 L541.80,673.98 L542.99,673.94 L544.18,673.88 L545.37,673.80 L546.56,673.69 L547.73,673.56 L548.91,673.40 L550.07,673.22 L551.23,673.00 L552.37,672.75 L553.51,672.47 L554.63,672.15 L555.73,671.78 L556.82,671.38 L557.89,670.93 L558.93,670.43 L559.95,669.89 L560.95,669.29 L561.92,668.63 L562.86,667.93 L563.77,667.17 L564.66,666.36 L565.51,665.51 L566.33,664.62 L567.12,663.70 L567.88,662.74 L568.61,661.76 L569.30,660.75 L569.96,659.72 L570.58,658.67 L571.17,657.61 L571.73,656.54 L572.25,655.46 L572.74,654.36 L573.20,653.26 L573.63,652.14 L574.03,651.02 L574.41,649.89 L574.75,648.75 L575.07,647.59 L575.37,646.44 L575.64,645.27 L575.89,644.10 L576.12,642.92 L576.33,641.74 L576.52,640.55 L576.69,639.35 L576.84,638.15 L576.97,636.95 L577.10,635.74 L577.20,634.53 L577.30,633.32 L577.38,632.11 L577.45,630.89 L577.51,629.67 L577.56,628.45 L577.60,627.24 L577.64,626.02 L577.66,624.80 L577.69,623.58 L577.71,622.37 L577.72,621.15 L577.73,619.94 L577.74,618.73 L577.73,617.52 L577.73,616.31 L577.72,615.10 L577.70,613.89 L577.68,612.68 L577.65,611.47 L577.62,610.27 L577.58,609.06 L577.54,607.86 L577.49,606.66 L577.44,605.45 L577.38,604.25 L577.32,603.05 L577.25,601.85 L577.18,600.65 L577.10,599.46 L577.02,598.26 L576.94,597.06 L576.84,595.87 L576.75,594.67 L576.65,593.48 L576.54,592.29 L576.43,591.10 L576.31,589.90 L576.19,588.71 L576.07,587.52 L575.94,586.34 L575.80,585.15 L575.66,583.96 L575.52,582.77 L575.37,581.59 L575.21,580.40 L575.06,579.22 L574.89,578.04 L574.72,576.85 L574.55,575.67 L574.38,574.49 L574.19,573.31 L574.01,572.13 L573.82,570.95 L573.62,569.77 L573.42,568.59 L573.22,567.42 L573.01,566.24 L572.79,565.06 L572.57,563.89 L572.35,562.71 L572.12,561.54 L571.89,560.36 L571.66,559.19 L571.42,558.02 L571.17,556.85 L570.92,555.67 L570.67,554.50 L570.41,553.33 L570.15,552.16 L569.88,550.99 L569.61,549.83 L569.33,548.66 L569.05,547.49 L568.77,546.32 L568.48,545.16 L568.19,543.99 L567.89,542.82 L567.59,541.66 L567.28,540.50 L566.97,539.34 L566.65,538.17 L566.33,537.01 L566.01,535.86 L565.68,534.70 L565.34,533.54 L565.00,532.39 L564.66,531.23 L564.31,530.08 L563.95,528.93 L563.59,527.78 L563.23,526.63 L562.86,525.49 L562.48,524.35 L562.10,523.20 L561.71,522.06 L561.32,520.93 L560.92,519.79 L560.52,518.66 L560.11,517.52 L559.70,516.40 L559.28,515.27 L558.85,514.14 L558.42,513.02 L557.99,511.90 L557.54,510.79 L557.10,509.67 L556.64,508.56 L556.18,507.45 L555.72,506.35 L555.25,505.24 L554.77,504.14 L554.28,503.05 L553.79,501.95 L553.30,500.86 L552.80,499.77 L552.29,498.69 L551.77,497.61 L551.25,496.53 L550.72,495.46 L550.19,494.39 L549.65,493.32 L549.10,492.26 L548.55,491.20 L547.99,490.14 L547.42,489.09 L546.84,488.04 L546.26,487.00 L545.68,485.96 L545.08,484.92 L544.48,483.89 L543.88,482.86 L543.27,481.83 L542.65,480.81 L542.02,479.79 L541.39,478.78 L540.76,477.76 L540.12,476.76 L539.47,475.75 L538.82,474.75 L538.16,473.75 L537.50,472.75 L536.83,471.76 L536.16,470.77 L535.48,469.78 L534.80,468.80 L534.11,467.82 L533.42,466.84 L532.72,465.86 L532.02,464.89 L531.32,463.92 L530.61,462.95 L529.90,461.98 L529.18,461.02 L528.46,460.06 L527.74,459.10 L527.01,458.14 L526.28,457.19 L525.55,456.23 L524.81,455.28 L524.07,454.33 L523.33,453.39 L522.58,452.44 L521.83,451.50 L521.08,450.56 L520.32,449.61 L519.57,448.68 L518.81,447.74 L518.05,446.80 L517.28,445.87 L516.52,444.94 L515.75,444.00 L514.98,443.07 L514.21,442.14 L513.43,441.22 L512.66,440.29 L511.88,439.36 L511.10,438.44 L510.32,437.51 L509.54,436.59 L508.76,435.67 L507.98,434.74 L507.20,433.82 L506.42,432.89 L505.65,431.97 L504.87,431.04 L504.11,430.11 L503.34,429.18 L502.58,428.25 L501.83,427.31 L501.08,426.37 L500.34,425.42 L499.61,424.47 L498.89,423.52 L498.18,422.56 L497.48,421.59 L496.79,420.62 L496.11,419.64 L495.45,418.65 L494.80,417.66 L494.16,416.66 L493.54,415.64 L492.93,414.63 L492.34,413.60 L491.77,412.56 L491.21,411.51 L490.68,410.45 L490.16,409.38 L489.66,408.30 L489.19,407.21 L488.73,406.11 L488.30,405.00 L487.90,403.87 L487.52,402.74 L487.17,401.60 L486.85,400.45 L486.56,399.29 L486.31,398.13 L486.08,396.96 L485.89,395.78 L485.74,394.60 L485.63,393.42 L485.55,392.23 L485.51,391.03 L485.50,389.84 L485.52,388.64 L485.57,387.44 L485.64,386.24 L485.74,385.04 L485.86,383.83 L485.99,382.63 L486.15,381.43 L486.31,380.23 L486.49,379.03 L486.68,377.83 L486.88,376.64 L487.08,375.45 L487.31,374.26 L487.54,373.07 L487.78,371.89 L488.04,370.71 L488.30,369.53 L488.58,368.36 L488.87,367.19 L489.17,366.02 L489.49,364.86 L489.82,363.70 L490.15,362.55 L490.51,361.40 L490.87,360.25 L491.25,359.11 L491.64,357.98 L492.04,356.85 L492.45,355.72 L492.88,354.60 L493.32,353.49 L493.78,352.38 L494.25,351.27 L494.73,350.18 L495.22,349.08 L495.72,347.99 L496.23,346.91 L496.75,345.83 L497.27,344.75 L497.80,343.67 L498.34,342.60 L498.87,341.53 L499.42,340.45 L499.96,339.38 L500.50,338.31 L501.04,337.24 L501.59,336.17 L502.12,335.09 L502.66,334.02 L503.19,332.94 L503.71,331.86 L504.23,330.78 L504.74,329.69 L505.24,328.60 L505.73,327.51 L506.21,326.41 L506.68,325.30 L507.13,324.19 L507.58,323.08 L508.00,321.96 L508.42,320.83 L508.82,319.70 L509.21,318.56 L509.58,317.42 L509.94,316.27 L510.29,315.12 L510.63,313.97 L510.94,312.81 L511.25,311.65 L511.54,310.49 L511.82,309.32 L512.08,308.15 L512.33,306.97 L512.57,305.80 L512.79,304.62 L513.00,303.44 L513.19,302.25 L513.37,301.07 L513.53,299.88 L513.68,298.70 L513.82,297.51 L513.94,296.32 L514.04,295.13 L514.13,293.94 L514.21,292.75 L514.27,291.55 L514.31,290.36 L514.34,289.17 L514.36,287.98 L514.36,286.79 L514.35,285.60 L514.32,284.42 L514.27,283.23 L514.21,282.04 L514.14,280.85 L514.06,279.67 L513.96,278.48 L513.85,277.29 L513.73,276.10 L513.60,274.92 L513.45,273.73 L513.30,272.54 L513.13,271.34 L512.96,270.15 L512.77,268.96 L512.58,267.76 L512.38,266.56 L512.16,265.36 L511.95,264.16 L511.72,262.96 L511.48,261.76 L511.23,260.55 L510.98,259.35 L510.71,258.15 L510.43,256.95 L510.13,255.76 L509.83,254.58 L509.50,253.39 L509.17,252.22 L508.81,251.05 L508.45,249.89 L508.06,248.74 L507.66,247.60 L507.24,246.47 L506.80,245.36 L506.34,244.25 L505.86,243.16 L505.36,242.08 L504.84,241.02 L504.30,239.96 L503.74,238.92 L503.16,237.90 L502.57,236.88 L501.96,235.88 L501.33,234.89 L500.69,233.91 L500.02,232.94 L499.35,231.98 L498.65,231.04 L497.94,230.10 L497.22,229.18 L496.48,228.26 L495.73,227.36 L494.96,226.47 L494.18,225.59 L493.39,224.71 L492.58,223.85 L491.77,223.00 L490.94,222.15 L490.09,221.32 L489.24,220.49 L488.38,219.67 L487.50,218.86 L486.62,218.06 L485.72,217.27 L484.82,216.49 L483.91,215.71 L482.99,214.94 L482.06,214.18 L481.12,213.43 L480.17,212.68 L479.22,211.94 L478.26,211.21 L477.29,210.48 L476.32,209.76 L475.35,209.05 L474.36,208.34 L473.37,207.64 L472.38,206.94 L471.38,206.25 L470.38,205.57 L469.38,204.89 L468.37,204.22 L467.35,203.55 L466.33,202.89 L465.31,202.24 L464.28,201.59 L463.25,200.95 L462.21,200.31 L461.17,199.69 L460.13,199.06 L459.08,198.45 L458.03,197.84 L456.98,197.24 L455.92,196.64 L454.85,196.06 L453.79,195.47 L452.72,194.90 L451.64,194.33 L450.57,193.77 L449.49,193.22 L448.40,192.67 L447.32,192.14 L446.23,191.61 L445.13,191.08 L444.04,190.57 L442.94,190.06 L441.83,189.56 L440.73,189.07 L439.62,188.58 L438.51,188.10 L437.39,187.64 L436.27,187.18 L435.15,186.72 L434.03,186.28 L432.91,185.84 L431.78,185.41 L430.65,184.99 L429.51,184.58 L428.38,184.18 L427.24,183.79 L426.10,183.40 L424.96,183.02 L423.82,182.66 L422.67,182.30 L421.52,181.95 L420.37,181.61 L419.22,181.27 L418.06,180.95 L416.91,180.64 L415.75,180.33 L414.59,180.04 L413.43,179.75 L412.27,179.47 L411.10,179.21 L409.94,178.95 L408.77,178.70 L407.60,178.47 L406.43,178.24 L405.26,178.02 L404.08,177.81 L402.91,177.61 L401.73,177.42 L400.56,177.25 L399.38,177.08 L398.20,176.92 L397.02,176.77 L395.84,176.64 L394.66,176.51 L393.48,176.39 L392.30,176.29 L391.11,176.19 L389.93,176.11 L388.75,176.04 L387.56,175.98 L386.38,175.92 L385.19,175.88 L384.01,175.86 L382.82,175.84 L381.63,175.83Z" fill="none" stroke="#1c1c1c" stroke-width="1.7" stroke-linejoin="round"/>
<path d="M258.57,239.80 L257.91,240.80 L257.24,241.79 L256.57,242.78 L255.89,243.77 L255.21,244.75 L254.53,245.73 L253.85,246.71 L253.16,247.68 L252.48,248.66 L251.81,249.65 L251.14,250.64 L250.48,251.64 L249.83,252.66 L249.18,253.68 L248.54,254.71 L247.90,255.73 L247.24,256.75 L246.57,257.75 L245.88,258.74 L245.15,259.70 L244.39,260.63 L243.60,261.52 L242.75,262.38 L241.87,263.19 L240.95,263.95 L239.99,264.66 L239.00,265.31 L237.97,265.90 L236.91,266.43 L235.82,266.88 L234.71,267.26 L233.57,267.57 L232.41,267.81 L231.24,268.00 L230.04,268.14 L228.84,268.24 L227.63,268.31 L226.41,268.36 L225.20,268.39 L223.98,268.42 L222.77,268.44 L221.56,268.47 L220.35,268.50 L219.15,268.53 L217.95,268.57 L216.75,268.62 L215.55,268.67 L214.36,268.74 L213.17,268.83 L211.99,268.93 L210.81,269.06 L209.63,269.20 L208.45,269.37 L207.28,269.57 L206.11,269.78 L204.95,270.03 L203.79,270.29 L202.64,270.58 L201.49,270.90 L200.35,271.24 L199.22,271.60 L198.09,271.98 L196.96,272.39 L195.85,272.82 L194.74,273.27 L193.64,273.74 L192.55,274.23 L191.46,274.75 L190.39,275.28 L189.32,275.84 L188.27,276.41 L187.22,277.01 L186.18,277.62 L185.16,278.25 L184.14,278.90 L183.14,279.58 L182.14,280.26 L181.16,280.97 L180.19,281.69 L179.24,282.44 L178.29,283.19 L177.36,283.97 L176.45,284.76 L175.54,285.57 L174.65,286.39 L173.78,287.23 L172.92,288.08 L172.08,288.95 L171.25,289.83 L170.43,290.73 L169.64,291.64 L168.86,292.57 L168.09,293.50 L167.34,294.46 L166.62,295.42 L165.90,296.40 L165.21,297.38 L164.54,298.38 L163.88,299.40 L163.24,300.42 L162.63,301.45 L162.03,302.50 L161.45,303.55 L160.90,304.62 L160.36,305.69 L159.85,306.77 L159.35,307.87 L158.88,308.97 L158.43,310.08 L158.01,311.20 L157.60,312.32 L157.22,313.46 L156.85,314.60 L156.51,315.74 L156.19,316.89 L155.90,318.05 L155.62,319.22 L155.36,320.38 L155.13,321.56 L154.92,322.73 L154.72,323.92 L154.55,325.10 L154.40,326.29 L154.27,327.48 L154.17,328.67 L154.08,329.87 L154.01,331.06 L153.97,332.26 L153.94,333.46 L153.94,334.66 L153.96,335.86 L153.99,337.06 L154.05,338.26 L154.13,339.45 L154.23,340.65 L154.35,341.84 L154.49,343.04 L154.65,344.22 L154.83,345.41 L155.03,346.59 L155.25,347.77 L155.49,348.95 L155.75,350.12 L156.03,351.29 L156.32,352.45 L156.64,353.61 L156.98,354.76 L157.34,355.90 L157.72,357.04 L158.12,358.17 L158.54,359.29 L158.97,360.40 L159.43,361.51 L159.91,362.61 L160.40,363.70 L160.92,364.78 L161.45,365.85 L162.00,366.91 L162.58,367.96 L163.17,368.99 L163.78,370.02 L164.41,371.04 L165.06,372.04 L165.72,373.03 L166.41,374.01 L167.11,374.98 L167.84,375.93 L168.58,376.87 L169.34,377.80 L170.12,378.71 L170.92,379.60 L171.73,380.48 L172.57,381.35 L173.42,382.19 L174.29,383.03 L175.18,383.84 L176.08,384.64 L177.01,385.42 L177.94,386.19 L178.90,386.94 L179.87,387.67 L180.85,388.39 L181.84,389.09 L182.84,389.77 L183.86,390.44 L184.89,391.09 L185.92,391.73 L186.97,392.35 L188.02,392.96 L189.08,393.55 L190.15,394.12 L191.22,394.68 L192.29,395.23 L193.38,395.76 L194.46,396.27 L195.55,396.77 L196.64,397.25 L197.73,397.72 L198.82,398.18 L199.91,398.62 L201.00,399.07 L202.08,399.51 L203.16,399.96 L204.24,400.42 L205.31,400.90 L206.38,401.40 L207.43,401.93 L208.48,402.50 L209.52,403.09 L210.55,403.73 L211.56,404.41 L212.56,405.11 L213.54,405.85 L214.51,406.62 L215.45,407.42 L216.36,408.25 L217.25,409.10 L218.12,409.98 L218.95,410.87 L219.75,411.79 L220.52,412.73 L221.26,413.68 L221.96,414.65 L222.64,415.64 L223.29,416.65 L223.90,417.67 L224.49,418.71 L225.05,419.76 L225.57,420.83 L226.07,421.90 L226.54,423.00 L226.98,424.10 L227.39,425.21 L227.78,426.34 L228.13,427.48 L228.46,428.62 L228.76,429.77 L229.04,430.93 L229.28,432.10 L229.50,433.28 L229.70,434.46 L229.87,435.65 L230.01,436.84 L230.13,438.03 L230.22,439.23 L230.29,440.43 L230.33,441.64 L230.35,442.84 L230.34,444.05 L230.31,445.25 L230.25,446.46 L230.18,447.66 L230.08,448.86 L229.95,450.06 L229.81,451.26 L229.64,452.45 L229.45,453.63 L229.23,454.82 L229.00,455.99 L228.75,457.16 L228.47,458.33 L228.19,459.49 L227.88,460.65 L227.56,461.81 L227.23,462.96 L226.89,464.11 L226.54,465.25 L226.17,466.40 L225.80,467.54 L225.42,468.67 L225.04,469.81 L224.65,470.94 L224.26,472.08 L223.87,473.21 L223.48,474.34 L223.09,475.47 L222.70,476.60 L222.31,477.73 L221.93,478.86" fill="none" stroke="#1c1c1c" stroke-width="1.7" stroke-linejoin="round"/>
<path d="M504.63,239.80 L505.29,240.80 L505.96,241.79 L506.63,242.78 L507.31,243.77 L507.99,244.75 L508.67,245.73 L509.35,246.71 L510.04,247.68 L510.72,248.66 L511.39,249.65 L512.06,250.64 L512.72,251.64 L513.37,252.66 L514.02,253.68 L514.66,254.71 L515.30,255.73 L515.96,256.75 L516.63,257.75 L517.32,258.74 L518.05,259.70 L518.81,260.63 L519.60,261.52 L520.45,262.38 L521.33,263.19 L522.25,263.95 L523.21,264.66 L524.20,265.31 L525.23,265.90 L526.29,266.43 L527.38,266.88 L528.49,267.26 L529.63,267.57 L530.79,267.81 L531.96,268.00 L533.16,268.14 L534.36,268.24 L535.57,268.31 L536.79,268.36 L538.00,268.39 L539.22,268.42 L540.43,268.44 L541.64,268.47 L542.85,268.50 L544.05,268.53 L545.25,268.57 L546.45,268.62 L547.65,268.67 L548.84,268.74 L550.03,268.83 L551.21,268.93 L552.39,269.06 L553.57,269.20 L554.75,269.37 L555.92,269.57 L557.09,269.78 L558.25,270.03 L559.41,270.29 L560.56,270.58 L561.71,270.90 L562.85,271.24 L563.98,271.60 L565.11,271.98 L566.24,272.39 L567.35,272.82 L568.46,273.27 L569.56,273.74 L570.65,274.23 L571.74,274.75 L572.81,275.28 L573.88,275.84 L574.93,276.41 L575.98,277.01 L577.02,277.62 L578.04,278.25 L579.06,278.90 L580.06,279.58 L581.06,280.26 L582.04,280.97 L583.01,281.69 L583.96,282.44 L584.91,283.19 L585.84,283.97 L586.75,284.76 L587.66,285.57 L588.55,286.39 L589.42,287.23 L590.28,288.08 L591.12,288.95 L591.95,289.83 L592.77,290.73 L593.56,291.64 L594.34,292.57 L595.11,293.50 L595.86,294.46 L596.58,295.42 L597.30,296.40 L597.99,297.38 L598.66,298.38 L599.32,299.40 L599.96,300.42 L600.57,301.45 L601.17,302.50 L601.75,303.55 L602.30,304.62 L602.84,305.69 L603.35,306.77 L603.85,307.87 L604.32,308.97 L604.77,310.08 L605.19,311.20 L605.60,312.32 L605.98,313.46 L606.35,314.60 L606.69,315.74 L607.01,316.89 L607.30,318.05 L607.58,319.22 L607.84,320.38 L608.07,321.56 L608.28,322.73 L608.48,323.92 L608.65,325.10 L608.80,326.29 L608.93,327.48 L609.03,328.67 L609.12,329.87 L609.19,331.06 L609.23,332.26 L609.26,333.46 L609.26,334.66 L609.24,335.86 L609.21,337.06 L609.15,338.26 L609.07,339.45 L608.97,340.65 L608.85,341.84 L608.71,343.04 L608.55,344.22 L608.37,345.41 L608.17,346.59 L607.95,347.77 L607.71,348.95 L607.45,350.12 L607.17,351.29 L606.88,352.45 L606.56,353.61 L606.22,354.76 L605.86,355.90 L605.48,357.04 L605.08,358.17 L604.66,359.29 L604.23,360.40 L603.77,361.51 L603.29,362.61 L602.80,363.70 L602.28,364.78 L601.75,365.85 L601.20,366.91 L600.62,367.96 L600.03,368.99 L599.42,370.02 L598.79,371.04 L598.14,372.04 L597.48,373.03 L596.79,374.01 L596.09,374.98 L595.36,375.93 L594.62,376.87 L593.86,377.80 L593.08,378.71 L592.28,379.60 L591.47,380.48 L590.63,381.35 L589.78,382.19 L588.91,383.03 L588.02,383.84 L587.12,384.64 L586.19,385.42 L585.26,386.19 L584.30,386.94 L583.33,387.67 L582.35,388.39 L581.36,389.09 L580.36,389.77 L579.34,390.44 L578.31,391.09 L577.28,391.73 L576.23,392.35 L575.18,392.96 L574.12,393.55 L573.05,394.12 L571.98,394.68 L570.91,395.23 L569.82,395.76 L568.74,396.27 L567.65,396.77 L566.56,397.25 L565.47,397.72 L564.38,398.18 L563.29,398.62 L562.20,399.07 L561.12,399.51 L560.04,399.96 L558.96,400.42 L557.89,400.90 L556.82,401.40 L555.77,401.93 L554.72,402.50 L553.68,403.09 L552.65,403.73 L551.64,404.41 L550.64,405.11 L549.66,405.85 L548.69,406.62 L547.75,407.42 L546.84,408.25 L545.95,409.10 L545.08,409.98 L544.25,410.87 L543.45,411.79 L542.68,412.73 L541.94,413.68 L541.24,414.65 L540.56,415.64 L539.91,416.65 L539.30,417.67 L538.71,418.71 L538.15,419.76 L537.63,420.83 L537.13,421.90 L536.66,423.00 L536.22,424.10 L535.81,425.21 L535.42,426.34 L535.07,427.48 L534.74,428.62 L534.44,429.77 L534.16,430.93 L533.92,432.10 L533.70,433.28 L533.50,434.46 L533.33,435.65 L533.19,436.84 L533.07,438.03 L532.98,439.23 L532.91,440.43 L532.87,441.64 L532.85,442.84 L532.86,444.05 L532.89,445.25 L532.95,446.46 L533.02,447.66 L533.12,448.86 L533.25,450.06 L533.39,451.26 L533.56,452.45 L533.75,453.63 L533.97,454.82 L534.20,455.99 L534.45,457.16 L534.73,458.33 L535.01,459.49 L535.32,460.65 L535.64,461.81 L535.97,462.96 L536.31,464.11 L536.66,465.25 L537.03,466.40 L537.40,467.54 L537.78,468.67 L538.16,469.81 L538.55,470.94 L538.94,472.08 L539.33,473.21 L539.72,474.34 L540.11,475.47 L540.50,476.60 L540.89,477.73 L541.27,478.86" fill="none" stroke="#1c1c1c" stroke-width="1.7" stroke-linejoin="round"/>
<path d="M305.16,691.40 L306.01,692.26 L306.83,693.16 L307.60,694.10 L308.32,695.07 L308.99,696.07 L309.61,697.09 L310.18,698.14 L310.69,699.22 L311.14,700.31 L311.53,701.43 L311.85,702.55 L312.11,703.69 L312.30,704.84 L312.42,706.00 L312.48,707.16 L312.49,708.34 L312.44,709.51 L312.34,710.69 L312.20,711.87 L312.01,713.05 L311.79,714.23 L311.54,715.40 L311.25,716.58 L310.94,717.74 L310.61,718.90 L310.25,720.06 L309.88,721.20 L309.50,722.34 L309.10,723.47 L308.70,724.60 L308.28,725.72 L307.85,726.84 L307.42,727.96 L306.99,729.07 L306.55,730.18 L306.11,731.29 L305.67,732.40 L305.24,733.51 L304.81,734.62 L304.39,735.73 L303.98,736.85 L303.57,737.96 L303.18,739.09 L302.80,740.21 L302.44,741.34 L302.10,742.48 L301.77,743.62 L301.47,744.77 L301.18,745.93 L300.92,747.09 L300.67,748.26 L300.45,749.43 L300.24,750.61 L300.05,751.79 L299.89,752.98 L299.74,754.17 L299.61,755.36 L299.50,756.56 L299.41,757.76 L299.34,758.96 L299.29,760.17 L299.26,761.37 L299.25,762.58 L299.25,763.79 L299.28,765.00 L299.32,766.21 L299.38,767.43 L299.46,768.64 L299.56,769.85 L299.67,771.06 L299.81,772.27 L299.96,773.47 L300.13,774.68 L300.32,775.88 L300.52,777.09 L300.74,778.28 L300.99,779.48 L301.24,780.67 L301.52,781.86 L301.81,783.04 L302.13,784.22 L302.45,785.40 L302.80,786.56 L303.16,787.73 L303.54,788.89 L303.94,790.04 L304.35,791.18 L304.78,792.32 L305.22,793.45 L305.69,794.57 L306.16,795.69 L306.66,796.80 L307.17,797.89 L307.70,798.98 L308.24,800.06 L308.80,801.14 L309.38,802.20 L309.97,803.25 L310.58,804.29 L311.20,805.32 L311.84,806.33 L312.49,807.34 L313.16,808.33 L313.84,809.31 L314.54,810.28 L315.26,811.24 L315.99,812.18 L316.73,813.11 L317.49,814.03 L318.27,814.93 L319.06,815.81 L319.86,816.68 L320.68,817.54 L321.51,818.38 L322.36,819.21 L323.22,820.02 L324.09,820.81 L324.97,821.60 L325.87,822.36 L326.78,823.11 L327.71,823.85 L328.64,824.57 L329.59,825.28 L330.55,825.97 L331.52,826.64 L332.50,827.30 L333.49,827.95 L334.50,828.58 L335.51,829.20 L336.53,829.80 L337.57,830.38 L338.61,830.95 L339.66,831.51 L340.72,832.05 L341.79,832.57 L342.87,833.08 L343.96,833.58 L345.05,834.06 L346.15,834.52 L347.26,834.97 L348.38,835.41 L349.50,835.82 L350.63,836.23 L351.77,836.62 L352.92,836.99 L354.07,837.35 L355.22,837.69 L356.38,838.02 L357.55,838.33 L358.72,838.63 L359.90,838.91 L361.08,839.18 L362.26,839.43 L363.45,839.67 L364.64,839.89 L365.84,840.10 L367.04,840.29 L368.24,840.46 L369.45,840.62 L370.66,840.77 L371.87,840.90 L373.08,841.01 L374.29,841.11 L375.51,841.20 L376.73,841.27 L377.94,841.32 L379.16,841.36 L380.38,841.38 L381.60,841.39 L382.82,841.38 L384.04,841.36 L385.26,841.32 L386.47,841.27 L387.69,841.20 L388.91,841.11 L390.12,841.01 L391.33,840.90 L392.54,840.77 L393.75,840.62 L394.96,840.46 L396.16,840.29 L397.36,840.10 L398.56,839.89 L399.75,839.67 L400.94,839.43 L402.12,839.18 L403.30,838.91 L404.48,838.63 L405.65,838.33 L406.82,838.02 L407.98,837.69 L409.13,837.35 L410.28,836.99 L411.43,836.62 L412.57,836.23 L413.70,835.82 L414.82,835.41 L415.94,834.97 L417.05,834.52 L418.15,834.06 L419.24,833.58 L420.33,833.08 L421.41,832.57 L422.48,832.05 L423.54,831.51 L424.59,830.95 L425.63,830.38 L426.67,829.80 L427.69,829.20 L428.70,828.58 L429.71,827.95 L430.70,827.30 L431.68,826.64 L432.65,825.97 L433.61,825.28 L434.56,824.57 L435.49,823.85 L436.42,823.11 L437.33,822.36 L438.23,821.60 L439.11,820.81 L439.98,820.02 L440.84,819.21 L441.69,818.38 L442.52,817.54 L443.34,816.68 L444.14,815.81 L444.93,814.93 L445.71,814.03 L446.47,813.11 L447.21,812.18 L447.94,811.24 L448.66,810.28 L449.36,809.31 L450.04,808.33 L450.71,807.34 L451.36,806.33 L452.00,805.32 L452.62,804.29 L453.23,803.25 L453.82,802.20 L454.40,801.14 L454.96,800.06 L455.50,798.98 L456.03,797.89 L456.54,796.80 L457.04,795.69 L457.51,794.57 L457.98,793.45 L458.42,792.32 L458.85,791.18 L459.26,790.04 L459.66,788.89 L460.04,787.73 L460.40,786.56 L460.75,785.40 L461.07,784.22 L461.39,783.04 L461.68,781.86 L461.96,780.67 L462.21,779.48 L462.46,778.28 L462.68,777.09 L462.88,775.88 L463.07,774.68 L463.24,773.47 L463.39,772.27 L463.53,771.06 L463.64,769.85 L463.74,768.64 L463.82,767.43 L463.88,766.21 L463.92,765.00 L463.95,763.79 L463.95,762.58 L463.94,761.37 L463.91,760.17 L463.86,758.96 L463.79,757.76 L463.70,756.56 L463.59,755.36 L463.46,754.17 L463.31,752.98 L463.15,751.79 L462.96,750.61 L462.75,749.43 L462.53,748.26 L462.28,747.09 L462.02,745.93 L461.73,744.77 L461.43,743.62 L461.10,742.48 L460.76,741.34 L460.40,740.21 L460.02,739.09 L459.63,737.96 L459.22,736.85 L458.81,735.73 L458.39,734.62 L457.96,733.51 L457.53,732.40 L457.09,731.29 L456.65,730.18 L456.21,729.07 L455.78,727.96 L455.35,726.84 L454.92,725.72 L454.50,724.60 L454.10,723.47 L453.70,722.34 L453.32,721.20 L452.95,720.06 L452.59,718.90 L452.26,717.74 L451.95,716.58 L451.66,715.40 L451.41,714.23 L451.19,713.05 L451.00,711.87 L450.86,710.69 L450.76,709.51 L450.71,708.34 L450.72,707.16 L450.78,706.00 L450.90,704.84 L451.09,703.69 L451.35,702.55 L451.67,701.43 L452.06,700.31 L452.51,699.22 L453.02,698.14 L453.59,697.09 L454.21,696.07 L454.88,695.07 L455.60,694.10 L456.37,693.16 L457.19,692.26 L458.04,691.40" fill="none" stroke="#1c1c1c" stroke-width="1.7" stroke-linejoin="round"/>
<path d="M381.61,240.82 L380.45,240.81 L379.28,240.83 L378.11,240.87 L376.94,240.94 L375.77,241.02 L374.60,241.13 L373.43,241.26 L372.26,241.41 L371.09,241.58 L369.92,241.77 L368.76,241.98 L367.59,242.21 L366.43,242.46 L365.27,242.73 L364.11,243.01 L362.95,243.32 L361.79,243.64 L360.64,243.98 L359.49,244.33 L358.34,244.71 L357.19,245.10 L356.05,245.51 L354.91,245.93 L353.78,246.37 L352.65,246.82 L351.52,247.29 L350.39,247.77 L349.27,248.27 L348.16,248.78 L347.05,249.30 L345.94,249.84 L344.84,250.39 L343.74,250.96 L342.65,251.53 L341.57,252.12 L340.49,252.72 L339.42,253.33 L338.35,253.95 L337.29,254.58 L336.23,255.23 L335.18,255.88 L334.14,256.54 L333.11,257.21 L332.08,257.89 L331.06,258.58 L330.05,259.28 L329.05,259.98 L328.05,260.70 L327.06,261.42 L326.09,262.15 L325.12,262.89 L324.17,263.64 L323.23,264.41 L322.31,265.18 L321.41,265.97 L320.53,266.77 L319.67,267.59 L318.83,268.42 L318.01,269.27 L317.21,270.13 L316.45,271.01 L315.71,271.91 L314.99,272.83 L314.31,273.77 L313.66,274.73 L313.05,275.71 L312.46,276.71 L311.92,277.73 L311.41,278.78 L310.93,279.85 L310.50,280.95 L310.11,282.06 L309.75,283.20 L309.44,284.35 L309.16,285.51 L308.92,286.68 L308.72,287.87 L308.56,289.05 L308.44,290.25 L308.37,291.44 L308.32,292.64 L308.32,293.83 L308.36,295.02 L308.44,296.20 L308.55,297.38 L308.70,298.56 L308.88,299.73 L309.09,300.90 L309.33,302.07 L309.59,303.23 L309.89,304.39 L310.20,305.55 L310.55,306.70 L310.91,307.85 L311.29,309.00 L311.69,310.15 L312.10,311.29 L312.53,312.43 L312.97,313.57 L313.43,314.71 L313.89,315.85 L314.36,316.98 L314.84,318.12 L315.32,319.25 L315.81,320.38 L316.29,321.51 L316.78,322.64 L317.27,323.76 L317.75,324.89 L318.24,326.01 L318.74,327.13 L319.23,328.25 L319.72,329.37 L320.22,330.48 L320.73,331.59 L321.23,332.70 L321.75,333.80 L322.26,334.90 L322.78,336.00 L323.31,337.08 L323.84,338.17 L324.38,339.25 L324.93,340.32 L325.49,341.39 L326.05,342.45 L326.62,343.51 L327.20,344.56 L327.79,345.60 L328.39,346.63 L329.00,347.66 L329.62,348.68 L330.25,349.69 L330.89,350.70 L331.54,351.69 L332.21,352.68 L332.89,353.65 L333.58,354.62 L334.29,355.58 L335.01,356.52 L335.74,357.46 L336.49,358.39 L337.26,359.30 L338.04,360.20 L338.83,361.09 L339.64,361.97 L340.46,362.83 L341.30,363.67 L342.15,364.50 L343.01,365.31 L343.89,366.11 L344.79,366.88 L345.69,367.64 L346.62,368.37 L347.55,369.09 L348.50,369.79 L349.46,370.46 L350.44,371.11 L351.43,371.74 L352.44,372.34 L353.46,372.92 L354.49,373.47 L355.54,374.00 L356.59,374.49 L357.67,374.97 L358.75,375.41 L359.85,375.82 L360.97,376.20 L362.09,376.56 L363.23,376.88 L364.39,377.17 L365.55,377.42 L366.73,377.65 L367.91,377.86 L369.11,378.03 L370.32,378.19 L371.53,378.31 L372.75,378.42 L373.98,378.50 L375.21,378.56 L376.45,378.61 L377.70,378.63 L378.94,378.64 L380.19,378.64 L381.45,378.62 L382.70,378.58 L383.95,378.54 L385.21,378.48 L386.46,378.40 L387.71,378.31 L388.96,378.20 L390.21,378.08 L391.45,377.94 L392.68,377.78 L393.91,377.60 L395.14,377.41 L396.35,377.20 L397.56,376.96 L398.76,376.71 L399.95,376.44 L401.13,376.14 L402.30,375.82 L403.45,375.49 L404.59,375.12 L405.72,374.74 L406.84,374.33 L407.94,373.89 L409.02,373.44 L410.08,372.95 L411.13,372.44 L412.16,371.90 L413.17,371.34 L414.16,370.75 L415.13,370.12 L416.08,369.47 L417.00,368.80 L417.90,368.09 L418.79,367.35 L419.65,366.59 L420.49,365.80 L421.31,364.99 L422.12,364.16 L422.90,363.30 L423.67,362.42 L424.43,361.52 L425.16,360.61 L425.89,359.67 L426.60,358.72 L427.29,357.75 L427.98,356.76 L428.65,355.76 L429.31,354.75 L429.96,353.73 L430.60,352.69 L431.24,351.65 L431.86,350.59 L432.48,349.53 L433.09,348.46 L433.69,347.39 L434.29,346.31 L434.89,345.23 L435.48,344.14 L436.07,343.06 L436.65,341.97 L437.24,340.88 L437.82,339.79 L438.40,338.71 L438.99,337.63 L439.57,336.55 L440.15,335.48 L440.73,334.40 L441.31,333.33 L441.89,332.26 L442.46,331.19 L443.03,330.12 L443.59,329.05 L444.15,327.98 L444.70,326.90 L445.24,325.83 L445.78,324.75 L446.31,323.68 L446.83,322.60 L447.34,321.51 L447.84,320.43 L448.33,319.34 L448.80,318.24 L449.27,317.14 L449.72,316.04 L450.16,314.93 L450.59,313.81 L451.00,312.69 L451.40,311.56 L451.78,310.43 L452.14,309.28 L452.49,308.13 L452.81,306.97 L453.12,305.81 L453.41,304.63 L453.68,303.45 L453.92,302.26 L454.14,301.07 L454.33,299.87 L454.48,298.67 L454.61,297.47 L454.70,296.27 L454.75,295.08 L454.77,293.88 L454.74,292.69 L454.68,291.50 L454.57,290.32 L454.43,289.14 L454.25,287.97 L454.02,286.81 L453.77,285.66 L453.47,284.52 L453.14,283.38 L452.78,282.26 L452.38,281.15 L451.95,280.05 L451.48,278.96 L450.98,277.89 L450.45,276.83 L449.90,275.79 L449.31,274.77 L448.69,273.76 L448.04,272.76 L447.37,271.79 L446.67,270.84 L445.94,269.90 L445.19,268.99 L444.41,268.10 L443.61,267.23 L442.78,266.38 L441.94,265.54 L441.07,264.73 L440.18,263.94 L439.27,263.16 L438.35,262.40 L437.40,261.65 L436.44,260.93 L435.46,260.22 L434.47,259.52 L433.47,258.84 L432.45,258.18 L431.41,257.52 L430.37,256.89 L429.31,256.26 L428.25,255.65 L427.17,255.05 L426.09,254.46 L425.00,253.88 L423.90,253.31 L422.79,252.75 L421.69,252.20 L420.57,251.66 L419.46,251.13 L418.34,250.61 L417.22,250.10 L416.09,249.59 L414.97,249.09 L413.84,248.61 L412.71,248.13 L411.58,247.67 L410.45,247.21 L409.31,246.77 L408.18,246.34 L407.04,245.92 L405.90,245.51 L404.75,245.12 L403.61,244.74 L402.47,244.38 L401.32,244.03 L400.17,243.70 L399.02,243.38 L397.87,243.08 L396.71,242.79 L395.56,242.52 L394.40,242.27 L393.25,242.04 L392.09,241.83 L390.93,241.63 L389.77,241.46 L388.61,241.30 L387.44,241.17 L386.28,241.05 L385.11,240.96 L383.95,240.89 L382.78,240.84 L381.61,240.82Z" fill="none" stroke="#1c1c1c" stroke-width="1.7" stroke-linejoin="round"/>
<path d="M329.77,448.57 L330.68,448.80 L331.59,449.20 L332.46,449.77 L333.25,450.49 L333.94,451.35 L334.53,452.33 L335.03,453.41 L335.44,454.58 L335.78,455.80 L336.04,457.06 L336.23,458.34 L336.36,459.64 L336.43,460.93 L336.45,462.23 L336.41,463.52 L336.33,464.81 L336.21,466.09 L336.04,467.35 L335.85,468.60 L335.61,469.82 L335.35,471.03 L335.06,472.21 L334.73,473.38 L334.38,474.53 L334.00,475.67 L333.60,476.79 L333.17,477.89 L332.72,478.98 L332.25,480.06 L331.75,481.13 L331.24,482.18 L330.71,483.23 L330.16,484.27 L329.59,485.29 L329.01,486.32 L328.41,487.33 L327.80,488.34 L327.18,489.34 L326.55,490.34 L325.90,491.34 L325.25,492.33 L324.59,493.33 L323.92,494.31 L323.25,495.30 L322.56,496.28 L321.87,497.26 L321.18,498.24 L320.47,499.22 L319.77,500.20 L319.06,501.18 L318.35,502.15 L317.63,503.13 L316.91,504.10 L316.19,505.08 L315.47,506.05 L314.75,507.02 L314.02,508.00 L313.30,508.98 L312.58,509.95 L311.86,510.93 L311.15,511.91 L310.44,512.90 L309.73,513.88 L309.02,514.87 L308.32,515.86 L307.63,516.85 L306.94,517.85 L306.26,518.85 L305.58,519.85 L304.92,520.86 L304.26,521.87 L303.61,522.88 L302.97,523.90 L302.34,524.92 L301.72,525.95 L301.11,526.99 L300.52,528.03 L299.94,529.07 L299.37,530.12 L298.81,531.18 L298.27,532.24 L297.74,533.31 L297.23,534.39 L296.74,535.48 L296.26,536.57 L295.80,537.67 L295.36,538.78 L294.94,539.89 L294.53,541.02 L294.15,542.15 L293.78,543.29 L293.44,544.44 L293.11,545.59 L292.81,546.76 L292.52,547.93 L292.25,549.10 L292.01,550.29 L291.78,551.47 L291.57,552.67 L291.38,553.86 L291.21,555.07 L291.06,556.27 L290.93,557.48 L290.81,558.69 L290.72,559.90 L290.64,561.12 L290.58,562.34 L290.55,563.56 L290.52,564.77 L290.52,565.99 L290.54,567.21 L290.57,568.43 L290.62,569.65 L290.69,570.87 L290.78,572.08 L290.89,573.29 L291.01,574.50 L291.15,575.71 L291.31,576.91 L291.49,578.11 L291.68,579.31 L291.89,580.50 L292.12,581.68 L292.37,582.86 L292.63,584.03 L292.91,585.20 L293.21,586.36 L293.52,587.51 L293.85,588.66 L294.20,589.79 L294.56,590.92 L294.94,592.04 L295.33,593.15 L295.74,594.26 L296.15,595.36 L296.57,596.46 L297.00,597.56 L297.42,598.66 L297.84,599.76 L298.26,600.87 L298.67,601.98 L299.06,603.11 L299.45,604.24 L299.82,605.39 L300.17,606.55 L300.50,607.73 L300.80,608.92 L301.08,610.13 L301.33,611.37 L301.55,612.62 L301.73,613.90 L301.87,615.19 L301.96,616.48 L301.99,617.77 L301.95,619.03 L301.85,620.26 L301.67,621.45 L301.40,622.58 L301.03,623.65 L300.57,624.65 L300.00,625.56 L299.32,626.38 L298.51,627.08 L297.58,627.68 L296.56,628.16 L295.45,628.53 L294.28,628.78 L293.07,628.92 L291.83,628.95 L290.59,628.87 L289.35,628.67 L288.16,628.36 L287.01,627.94 L285.93,627.40 L284.93,626.76 L283.99,626.03 L283.11,625.22 L282.28,624.34 L281.48,623.41 L280.72,622.45 L279.98,621.45 L279.25,620.44 L278.52,619.43 L277.80,618.42 L277.09,617.41 L276.38,616.39 L275.68,615.37 L274.99,614.35 L274.31,613.32 L273.63,612.29 L272.97,611.26 L272.31,610.23 L271.67,609.19 L271.04,608.15 L270.42,607.10 L269.81,606.05 L269.22,604.99 L268.64,603.93 L268.08,602.87 L267.53,601.80 L267.00,600.72 L266.48,599.64 L265.99,598.55 L265.51,597.46 L265.05,596.36 L264.60,595.26 L264.18,594.14 L263.78,593.02 L263.40,591.90 L263.04,590.77 L262.69,589.63 L262.37,588.49 L262.06,587.34 L261.77,586.19 L261.51,585.03 L261.26,583.87 L261.03,582.71 L260.81,581.54 L260.62,580.36 L260.44,579.18 L260.28,578.00 L260.14,576.82 L260.01,575.63 L259.90,574.44 L259.81,573.25 L259.74,572.05 L259.68,570.86 L259.64,569.66 L259.61,568.46 L259.60,567.26 L259.61,566.05 L259.63,564.85 L259.67,563.64 L259.73,562.44 L259.80,561.23 L259.88,560.03 L259.98,558.82 L260.09,557.62 L260.22,556.41 L260.37,555.21 L260.52,554.01 L260.69,552.81 L260.88,551.61 L261.08,550.41 L261.29,549.21 L261.52,548.02 L261.76,546.83 L262.01,545.64 L262.28,544.45 L262.56,543.27 L262.85,542.09 L263.16,540.92 L263.47,539.75 L263.80,538.58 L264.14,537.41 L264.50,536.25 L264.86,535.10 L265.24,533.95 L265.63,532.80 L266.03,531.66 L266.44,530.52 L266.86,529.38 L267.30,528.25 L267.74,527.13 L268.20,526.01 L268.67,524.90 L269.15,523.79 L269.64,522.68 L270.14,521.58 L270.65,520.49 L271.17,519.40 L271.70,518.31 L272.25,517.24 L272.80,516.16 L273.36,515.10 L273.93,514.03 L274.52,512.98 L275.11,511.93 L275.71,510.89 L276.32,509.85 L276.94,508.82 L277.57,507.79 L278.21,506.78 L278.86,505.76 L279.52,504.76 L280.19,503.76 L280.86,502.77 L281.55,501.78 L282.24,500.80 L282.94,499.83 L283.65,498.87 L284.37,497.91 L285.09,496.96 L285.83,496.02 L286.57,495.08 L287.32,494.16 L288.08,493.24 L288.85,492.32 L289.62,491.42 L290.40,490.52 L291.19,489.63 L291.98,488.75 L292.79,487.88 L293.60,487.02 L294.41,486.16 L295.24,485.31 L296.07,484.47 L296.91,483.64 L297.75,482.82 L298.60,482.01 L299.45,481.20 L300.31,480.40 L301.18,479.60 L302.04,478.80 L302.91,478.00 L303.78,477.20 L304.65,476.39 L305.51,475.57 L306.38,474.75 L307.24,473.92 L308.10,473.07 L308.95,472.21 L309.80,471.33 L310.64,470.44 L311.47,469.52 L312.29,468.58 L313.11,467.62 L313.91,466.63 L314.70,465.62 L315.48,464.57 L316.25,463.50 L317.00,462.38 L317.73,461.24 L318.46,460.07 L319.17,458.89 L319.87,457.71 L320.58,456.55 L321.28,455.42 L321.98,454.32 L322.69,453.28 L323.40,452.31 L324.13,451.42 L324.87,450.63 L325.63,449.94 L326.40,449.37 L327.20,448.94 L328.03,448.65 L328.88,448.52 L329.77,448.57Z" fill="none" stroke="#1c1c1c" stroke-width="1.7" stroke-linejoin="round"/>
<path d="M433.43,448.57 L432.52,448.80 L431.61,449.20 L430.74,449.77 L429.95,450.49 L429.26,451.35 L428.67,452.33 L428.17,453.41 L427.76,454.58 L427.42,455.80 L427.16,457.06 L426.97,458.34 L426.84,459.64 L426.77,460.93 L426.75,462.23 L426.79,463.52 L426.87,464.81 L426.99,466.09 L427.16,467.35 L427.35,468.60 L427.59,469.82 L427.85,471.03 L428.14,472.21 L428.47,473.38 L428.82,474.53 L429.20,475.67 L429.60,476.79 L430.03,477.89 L430.48,478.98 L430.95,480.06 L431.45,481.13 L431.96,482.18 L432.49,483.23 L433.04,484.27 L433.61,485.29 L434.19,486.32 L434.79,487.33 L435.40,488.34 L436.02,489.34 L436.65,490.34 L437.30,491.34 L437.95,492.33 L438.61,493.33 L439.28,494.31 L439.95,495.30 L440.64,496.28 L441.33,497.26 L442.02,498.24 L442.73,499.22 L443.43,500.20 L444.14,501.18 L444.85,502.15 L445.57,503.13 L446.29,504.10 L447.01,505.08 L447.73,506.05 L448.45,507.02 L449.18,508.00 L449.90,508.98 L450.62,509.95 L451.34,510.93 L452.05,511.91 L452.76,512.90 L453.47,513.88 L454.18,514.87 L454.88,515.86 L455.57,516.85 L456.26,517.85 L456.94,518.85 L457.62,519.85 L458.28,520.86 L458.94,521.87 L459.59,522.88 L460.23,523.90 L460.86,524.92 L461.48,525.95 L462.09,526.99 L462.68,528.03 L463.26,529.07 L463.83,530.12 L464.39,531.18 L464.93,532.24 L465.46,533.31 L465.97,534.39 L466.46,535.48 L466.94,536.57 L467.40,537.67 L467.84,538.78 L468.26,539.89 L468.67,541.02 L469.05,542.15 L469.42,543.29 L469.76,544.44 L470.09,545.59 L470.39,546.76 L470.68,547.93 L470.95,549.10 L471.19,550.29 L471.42,551.47 L471.63,552.67 L471.82,553.86 L471.99,555.07 L472.14,556.27 L472.27,557.48 L472.39,558.69 L472.48,559.90 L472.56,561.12 L472.62,562.34 L472.65,563.56 L472.68,564.77 L472.68,565.99 L472.66,567.21 L472.63,568.43 L472.58,569.65 L472.51,570.87 L472.42,572.08 L472.31,573.29 L472.19,574.50 L472.05,575.71 L471.89,576.91 L471.71,578.11 L471.52,579.31 L471.31,580.50 L471.08,581.68 L470.83,582.86 L470.57,584.03 L470.29,585.20 L469.99,586.36 L469.68,587.51 L469.35,588.66 L469.00,589.79 L468.64,590.92 L468.26,592.04 L467.87,593.15 L467.46,594.26 L467.05,595.36 L466.63,596.46 L466.20,597.56 L465.78,598.66 L465.36,599.76 L464.94,600.87 L464.53,601.98 L464.14,603.11 L463.75,604.24 L463.38,605.39 L463.03,606.55 L462.70,607.73 L462.40,608.92 L462.12,610.13 L461.87,611.37 L461.65,612.62 L461.47,613.90 L461.33,615.19 L461.24,616.48 L461.21,617.77 L461.25,619.03 L461.35,620.26 L461.53,621.45 L461.80,622.58 L462.17,623.65 L462.63,624.65 L463.20,625.56 L463.88,626.38 L464.69,627.08 L465.62,627.68 L466.64,628.16 L467.75,628.53 L468.92,628.78 L470.13,628.92 L471.37,628.95 L472.61,628.87 L473.85,628.67 L475.04,628.36 L476.19,627.94 L477.27,627.40 L478.27,626.76 L479.21,626.03 L480.09,625.22 L480.92,624.34 L481.72,623.41 L482.48,622.45 L483.22,621.45 L483.95,620.44 L484.68,619.43 L485.40,618.42 L486.11,617.41 L486.82,616.39 L487.52,615.37 L488.21,614.35 L488.89,613.32 L489.57,612.29 L490.23,611.26 L490.89,610.23 L491.53,609.19 L492.16,608.15 L492.78,607.10 L493.39,606.05 L493.98,604.99 L494.56,603.93 L495.12,602.87 L495.67,601.80 L496.20,600.72 L496.72,599.64 L497.21,598.55 L497.69,597.46 L498.15,596.36 L498.60,595.26 L499.02,594.14 L499.42,593.02 L499.80,591.90 L500.16,590.77 L500.51,589.63 L500.83,588.49 L501.14,587.34 L501.43,586.19 L501.69,585.03 L501.94,583.87 L502.17,582.71 L502.39,581.54 L502.58,580.36 L502.76,579.18 L502.92,578.00 L503.06,576.82 L503.19,575.63 L503.30,574.44 L503.39,573.25 L503.46,572.05 L503.52,570.86 L503.56,569.66 L503.59,568.46 L503.60,567.26 L503.59,566.05 L503.57,564.85 L503.53,563.64 L503.47,562.44 L503.40,561.23 L503.32,560.03 L503.22,558.82 L503.11,557.62 L502.98,556.41 L502.83,555.21 L502.68,554.01 L502.51,552.81 L502.32,551.61 L502.12,550.41 L501.91,549.21 L501.68,548.02 L501.44,546.83 L501.19,545.64 L500.92,544.45 L500.64,543.27 L500.35,542.09 L500.04,540.92 L499.73,539.75 L499.40,538.58 L499.06,537.41 L498.70,536.25 L498.34,535.10 L497.96,533.95 L497.57,532.80 L497.17,531.66 L496.76,530.52 L496.34,529.38 L495.90,528.25 L495.46,527.13 L495.00,526.01 L494.53,524.90 L494.05,523.79 L493.56,522.68 L493.06,521.58 L492.55,520.49 L492.03,519.40 L491.50,518.31 L490.95,517.24 L490.40,516.16 L489.84,515.10 L489.27,514.03 L488.68,512.98 L488.09,511.93 L487.49,510.89 L486.88,509.85 L486.26,508.82 L485.63,507.79 L484.99,506.78 L484.34,505.76 L483.68,504.76 L483.01,503.76 L482.34,502.77 L481.65,501.78 L480.96,500.80 L480.26,499.83 L479.55,498.87 L478.83,497.91 L478.11,496.96 L477.37,496.02 L476.63,495.08 L475.88,494.16 L475.12,493.24 L474.35,492.32 L473.58,491.42 L472.80,490.52 L472.01,489.63 L471.22,488.75 L470.41,487.88 L469.60,487.02 L468.79,486.16 L467.96,485.31 L467.13,484.47 L466.29,483.64 L465.45,482.82 L464.60,482.01 L463.75,481.20 L462.89,480.40 L462.02,479.60 L461.16,478.80 L460.29,478.00 L459.42,477.20 L458.55,476.39 L457.69,475.57 L456.82,474.75 L455.96,473.92 L455.10,473.07 L454.25,472.21 L453.40,471.33 L452.56,470.44 L451.73,469.52 L450.91,468.58 L450.09,467.62 L449.29,466.63 L448.50,465.62 L447.72,464.57 L446.95,463.50 L446.20,462.38 L445.47,461.24 L444.74,460.07 L444.03,458.89 L443.33,457.71 L442.62,456.55 L441.92,455.42 L441.22,454.32 L440.51,453.28 L439.80,452.31 L439.07,451.42 L438.33,450.63 L437.57,449.94 L436.80,449.37 L436.00,448.94 L435.17,448.65 L434.32,448.52 L433.43,448.57Z" fill="none" stroke="#1c1c1c" stroke-width="1.7" stroke-linejoin="round"/>
<circle cx="220.4" cy="334.8" r="34.2" fill="none" stroke="#1c1c1c" stroke-width="1.7" stroke-linejoin="round"/>
<circle cx="542.8" cy="334.8" r="34.2" fill="none" stroke="#1c1c1c" stroke-width="1.7" stroke-linejoin="round"/>
<circle cx="381.6" cy="569.0" r="59.0" fill="none" stroke="#1c1c1c" stroke-width="1.7" stroke-linejoin="round"/>
<circle cx="381.6" cy="569.0" r="19.6" fill="none" stroke="#1c1c1c" stroke-width="1.7" stroke-linejoin="round"/>
<circle cx="381.6" cy="760.0" r="43.3" fill="none" stroke="#1c1c1c" stroke-width="1.7" stroke-linejoin="round"/>
<line x1="153.6" y1="36.0" x2="153.6" y2="305.0" stroke="#1e1e1e" stroke-width="1.15" fill="none"/>
<line x1="609.6" y1="36.0" x2="609.6" y2="305.0" stroke="#1e1e1e" stroke-width="1.15" fill="none"/>
<line x1="160.0" y1="55.2" x2="602.0" y2="55.2" stroke="#1e1e1e" stroke-width="1.15" fill="none"/>
<line x1="311.5" y1="116.7" x2="311.5" y2="265.0" stroke="#1e1e1e" stroke-width="1.15" fill="none"/>
<line x1="452.0" y1="116.7" x2="452.0" y2="265.0" stroke="#1e1e1e" stroke-width="1.15" fill="none"/>
<line x1="318.0" y1="136.1" x2="445.0" y2="136.1" stroke="#1e1e1e" stroke-width="1.15" fill="none"/>
<line x1="88.3" y1="175.5" x2="323.3" y2="175.5" stroke="#1e1e1e" stroke-width="1.15" fill="none"/>
<line x1="88.3" y1="839.7" x2="330.8" y2="839.7" stroke="#1e1e1e" stroke-width="1.15" fill="none"/>
<line x1="106.6" y1="185.0" x2="106.6" y2="830.0" stroke="#1e1e1e" stroke-width="1.15" fill="none"/>
<line x1="55.1" y1="303.7" x2="187.6" y2="303.7" stroke="#1e1e1e" stroke-width="1.15" fill="none"/>
<line x1="55.1" y1="369.7" x2="187.6" y2="369.7" stroke="#1e1e1e" stroke-width="1.15" fill="none"/>
<line x1="73.2" y1="250.8" x2="73.2" y2="420.8" stroke="#1e1e1e" stroke-width="1.15" fill="none"/>
<line x1="337.4" y1="780.4" x2="337.4" y2="881.3" stroke="#1e1e1e" stroke-width="1.15" fill="none"/>
<line x1="426.9" y1="780.4" x2="426.9" y2="881.3" stroke="#1e1e1e" stroke-width="1.15" fill="none"/>
<line x1="368.5" y1="863.1" x2="396.0" y2="863.1" stroke="#1e1e1e" stroke-width="1.15" fill="none"/>
<line x1="268.6" y1="882.3" x2="268.6" y2="975.4" stroke="#1e1e1e" stroke-width="1.15" fill="none"/>
<line x1="493.6" y1="882.3" x2="493.6" y2="975.4" stroke="#1e1e1e" stroke-width="1.15" fill="none"/>
<line x1="280.0" y1="960.0" x2="485.0" y2="960.0" stroke="#1e1e1e" stroke-width="1.15" fill="none"/>
<line x1="609.6" y1="654.5" x2="650.7" y2="606.0" stroke="#1e1e1e" stroke-width="1.15" fill="none"/>
<path d="M153.80,55.20 L192.00,41.20 L181.80,55.20 L192.00,69.20 Z" fill="#1a1a1a"/>
<path d="M609.40,55.20 L571.20,69.20 L581.40,55.20 L571.20,41.20 Z" fill="#1a1a1a"/>
<path d="M311.80,136.10 L350.00,122.10 L339.80,136.10 L350.00,150.10 Z" fill="#1a1a1a"/>
<path d="M451.60,136.10 L413.40,150.10 L423.60,136.10 L413.40,122.10 Z" fill="#1a1a1a"/>
<path d="M106.60,176.10 L120.60,214.30 L106.60,204.10 L92.60,214.30 Z" fill="#1a1a1a"/>
<path d="M106.60,839.40 L92.60,801.20 L106.60,811.40 L120.60,801.20 Z" fill="#1a1a1a"/>
<path d="M73.20,303.60 L59.20,265.40 L73.20,275.60 L87.20,265.40 Z" fill="#1a1a1a"/>
<path d="M73.20,369.80 L87.20,408.00 L73.20,397.80 L59.20,408.00 Z" fill="#1a1a1a"/>
<path d="M339.60,863.10 L377.80,849.10 L367.60,863.10 L377.80,877.10 Z" fill="#1a1a1a"/>
<path d="M424.60,863.10 L386.40,877.10 L396.60,863.10 L386.40,849.10 Z" fill="#1a1a1a"/>
<path d="M271.50,960.00 L309.70,946.00 L299.50,960.00 L309.70,974.00 Z" fill="#1a1a1a"/>
<path d="M490.20,960.00 L452.00,974.00 L462.20,960.00 L452.00,946.00 Z" fill="#1a1a1a"/>
<path d="M667.30,586.30 L653.34,624.51 L649.23,607.69 L631.95,606.44 Z" fill="#1a1a1a"/>
<path d="M593.00,674.10 L606.96,635.89 L611.07,652.71 L628.35,653.96 Z" fill="#1a1a1a"/>
<clipPath id="clip_t1" clipPathUnits="userSpaceOnUse"><path clip-rule="evenodd" d="M-3000,-3000H3000V3000H-3000ZM300.01,45.90H310.19V52.00H300.01ZM314.75,45.90H324.66V52.00H314.75Z"/></clipPath><text y="50.50" font-family="Liberation Sans, sans-serif" font-size="45.495" fill="#1a1a1a" clip-path="url(#clip_t1)"><tspan x="297.54" textLength="28.08" lengthAdjust="spacingAndGlyphs">1</tspan><tspan x="326.04" textLength="20.13" lengthAdjust="spacingAndGlyphs" stroke="#1a1a1a" stroke-width="0.90" stroke-linejoin="round">0</tspan><tspan x="352.34" textLength="20.13" lengthAdjust="spacingAndGlyphs" stroke="#1a1a1a" stroke-width="0.90" stroke-linejoin="round">0</tspan> <tspan x="385.69" textLength="38.99" lengthAdjust="spacingAndGlyphs">m</tspan><tspan x="424.94" textLength="38.40" lengthAdjust="spacingAndGlyphs">m</tspan></text>
<text y="120.80" font-family="Liberation Sans, sans-serif" font-size="45.495" fill="#1a1a1a"><tspan x="312.39" textLength="23.58" lengthAdjust="spacingAndGlyphs">3</tspan><tspan x="337.38" textLength="24.54" lengthAdjust="spacingAndGlyphs">2</tspan> <tspan x="373.76" textLength="39.35" lengthAdjust="spacingAndGlyphs">m</tspan><tspan x="412.80" textLength="38.88" lengthAdjust="spacingAndGlyphs">m</tspan></text>
<text y="668.20" font-family="Liberation Sans, sans-serif" font-size="45.495" fill="#1a1a1a"><tspan x="636.89" textLength="22.40" lengthAdjust="spacingAndGlyphs">5</tspan><tspan x="661.09" textLength="24.39" lengthAdjust="spacingAndGlyphs">4</tspan> <tspan x="697.18" textLength="39.11" lengthAdjust="spacingAndGlyphs">m</tspan><tspan x="736.18" textLength="39.11" lengthAdjust="spacingAndGlyphs">m</tspan></text>
<clipPath id="clip_t4" clipPathUnits="userSpaceOnUse"><path clip-rule="evenodd" d="M-3000,-3000H3000V3000H-3000ZM333.93,918.73H344.02V924.80H333.93ZM348.55,918.73H358.38V924.80H348.55Z"/></clipPath><text y="923.30" font-family="Liberation Sans, sans-serif" font-size="45.059" fill="#1a1a1a" clip-path="url(#clip_t4)"><tspan x="297.94" textLength="32.78" lengthAdjust="spacingAndGlyphs">Ø</tspan><tspan x="331.48" textLength="27.85" lengthAdjust="spacingAndGlyphs">1</tspan><tspan x="359.59" textLength="22.64" lengthAdjust="spacingAndGlyphs">9</tspan> <tspan x="394.39" textLength="38.99" lengthAdjust="spacingAndGlyphs">m</tspan><tspan x="433.33" textLength="37.21" lengthAdjust="spacingAndGlyphs">m</tspan></text>
<text y="1001.60" font-family="Liberation Sans, sans-serif" font-size="45.059" fill="#1a1a1a"><tspan x="312.61" textLength="23.95" lengthAdjust="spacingAndGlyphs">4</tspan><tspan x="338.41" textLength="23.60" lengthAdjust="spacingAndGlyphs">9</tspan> <tspan x="373.39" textLength="38.99" lengthAdjust="spacingAndGlyphs">m</tspan><tspan x="412.21" textLength="38.76" lengthAdjust="spacingAndGlyphs">m</tspan></text>
<g transform="translate(100.70,706.90) rotate(-90)"><clipPath id="clip_t6" clipPathUnits="userSpaceOnUse"><path clip-rule="evenodd" d="M-3000,-3000H3000V3000H-3000ZM-2.27,-4.58H7.41V1.50H-2.27ZM11.75,-4.58H21.17V1.50H11.75Z"/></clipPath><text y="0.00" font-family="Liberation Sans, sans-serif" font-size="45.204" fill="#1a1a1a" clip-path="url(#clip_t6)"><tspan x="-4.62" textLength="26.71" lengthAdjust="spacingAndGlyphs">1</tspan><tspan x="21.42" textLength="23.73" lengthAdjust="spacingAndGlyphs">4</tspan><tspan x="46.09" textLength="23.98" lengthAdjust="spacingAndGlyphs">7</tspan> <tspan x="82.60" textLength="37.69" lengthAdjust="spacingAndGlyphs">m</tspan><tspan x="121.70" textLength="37.69" lengthAdjust="spacingAndGlyphs">m</tspan></text></g>
<g transform="translate(52.70,420.30) rotate(-90)"><clipPath id="clip_t7" clipPathUnits="userSpaceOnUse"><path clip-rule="evenodd" d="M-3000,-3000H3000V3000H-3000ZM34.92,-4.59H44.19V1.50H34.92ZM48.35,-4.59H57.37V1.50H48.35Z"/></clipPath><text y="0.00" font-family="Liberation Sans, sans-serif" font-size="45.350" fill="#1a1a1a" clip-path="url(#clip_t7)"><tspan x="-1.37" textLength="30.70" lengthAdjust="spacingAndGlyphs">Ø</tspan><tspan x="32.68" textLength="25.56" lengthAdjust="spacingAndGlyphs">1</tspan><tspan x="58.02" textLength="23.73" lengthAdjust="spacingAndGlyphs">4</tspan> <tspan x="93.83" textLength="37.21" lengthAdjust="spacingAndGlyphs">m</tspan><tspan x="133.31" textLength="37.45" lengthAdjust="spacingAndGlyphs">m</tspan></text></g>
</svg>
</body></html>
